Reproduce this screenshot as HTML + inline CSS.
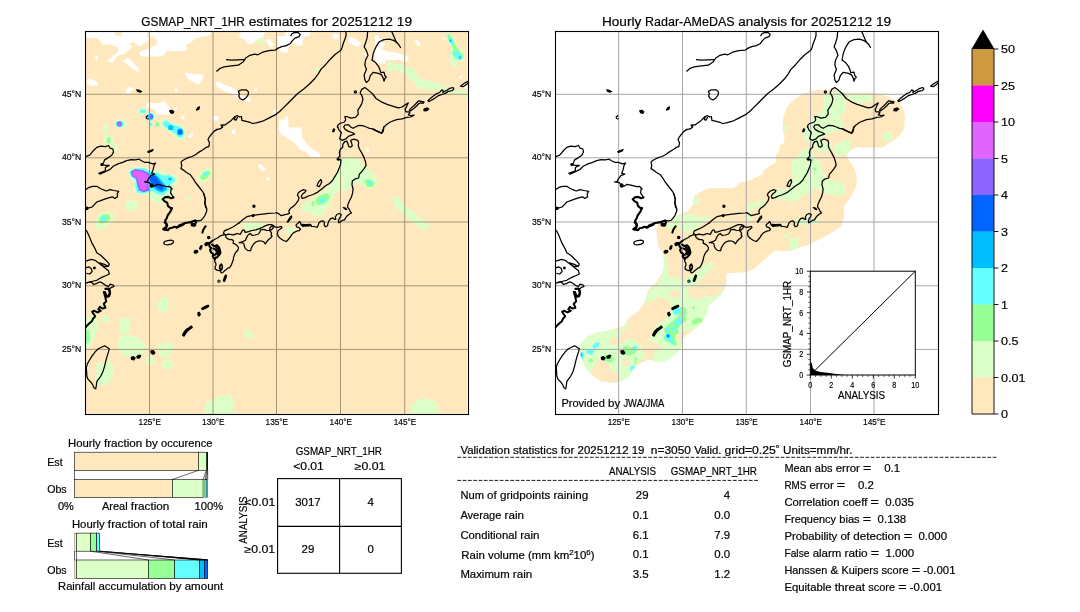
<!DOCTYPE html>
<html lang="en"><head><meta charset="utf-8"><title>GSMAP_NRT_1HR validation 20251212 19</title>
<style>html,body{margin:0;padding:0;background:#fff}body{width:1080px;height:612px;overflow:hidden;font-family:"Liberation Sans",sans-serif}svg{display:block;will-change:transform}text{font-family:"Liberation Sans",sans-serif;fill:#000;stroke:#000;stroke-width:0.18px}</style>
</head><body>
<svg width="1080" height="612" viewBox="0 0 1080 612">
<rect width="1080" height="612" fill="#fff"/>
<defs>
<filter id="soft" x="-5%" y="-5%" width="110%" height="110%"><feGaussianBlur stdDeviation="0.45"/></filter>
<clipPath id="bandclip"><path d="M228.1 96.0 L227.6 90.0 L228.9 84.3 L232.8 75.1 L240.7 67.3 L249.8 62.1 L261.6 58.9 L277.3 58.4 L290.4 61.5 L319.1 61.5 L332.2 65.2 L341.3 69.9 L347.9 76.5 L350.0 85.6 L349.2 97.4 L345.3 103.9 L337.4 110.4 L327.0 116.5 L300.8 116.5 L293.5 120.9 L291.7 126.1 L295.6 131.4 L299.5 137.9 L302.1 147.0 L300.8 156.2 L295.6 166.6 L289.1 174.5 L289.1 185.0 L286.4 195.4 L279.8 199.5 L266.7 207.0 L255.3 213.5 L243.8 216.8 L235.7 220.0 L219.3 220.0 L209.5 228.2 L199.7 237.4 L190.8 241.2 L171.4 242.2 L171.5 252.7 L169.1 259.0 L165.1 264.2 L161.9 267.5 L157.3 271.4 L152.7 276.0 L152.1 281.2 L149.4 287.1 L146.8 291.7 L142.9 295.6 L137.7 299.5 L133.1 302.8 L128.5 306.7 L127.2 312.6 L125.9 317.8 L122.0 321.7 L116.8 325.7 L110.2 330.2 L105.0 330.9 L93.0 328.5 L84.9 332.8 L78.3 337.7 L73.4 345.9 L63.6 351.7 L47.3 350.8 L39.1 345.9 L30.9 337.7 L26.0 326.3 L24.4 314.8 L30.9 306.6 L40.8 301.7 L52.2 300.1 L68.5 295.2 L73.4 287.0 L83.2 280.5 L89.8 270.7 L93.0 259.3 L102.8 249.5 L107.7 241.3 L109.4 231.5 L107.7 221.7 L102.8 215.1 L101.2 198.8 L104.0 190.0 L111.7 190.0 L124.2 183.1 L132.1 180.7 L137.6 174.4 L139.1 165.0 L146.2 160.3 L154.0 157.2 L179.1 157.2 L186.2 150.9 L192.0 150.5 L198.3 147.8 L207.7 143.1 L208.5 139.9 L213.2 136.0 L221.0 131.3 L221.0 124.2 L224.2 119.5 L224.9 114.8 L228.9 111.7 L229.6 105.4 L228.1 100.7 Z"/></clipPath>
<clipPath id="clipmap"><rect x="0.5" y="0.5" width="383" height="383"/></clipPath>
<g id="coast" fill="none" stroke="#000" stroke-width="1.25" stroke-linejoin="round" stroke-linecap="round">
<path d="M62.7 84.7 L61.2 86.0 L61.5 87.5 L63.1 87.8"/>
<path d="M131.8 40.2 L135.2 37.3 L139.1 35.8 L146.2 34.8 L153.3 34.2 L158.0 31.1 L161.1 26.7 L165.0 24.3 L169.7 23.2 L172.9 23.8 L177.6 21.2 L183.8 19.6 L190.1 19.1 L192.0 18.0"/>
<path d="M141.5 28.7 L146.2 29.2 L152.5 28.9 L158.7 28.7"/>
<path d="M153.3 60.4 L156.4 58.8 L161.1 58.8 L163.5 60.9 L163.1 64.0 L161.1 66.7 L158.0 69.0 L155.3 67.8 L153.7 65.1 L154.4 62.7 Z"/>
<path d="M137.6 96.0 L136.0 94.1 L138.0 93.8 L139.9 94.1 L143.1 91.8 L146.2 89.4 L150.1 85.5 L152.5 84.7 L154.8 86.0 L156.4 85.5 L156.9 89.4 L160.3 90.2 L165.0 91.3 L167.4 92.5 L171.3 91.8 L177.6 90.2 L183.8 87.1 L190.1 83.9 L192.0 82.8"/>
<path d="M150.1 86.0 L149.3 88.6 L151.2 89.1 L152.5 86.3"/>
<path d="M192.0 17.6 L196.7 15.7 L201.4 14.6 L205.3 12.5 L207.7 9.4 L210.0 7.1 L214.0 5.6 L215.2 3.5 L213.2 1.6 L209.3 1.6 L206.9 2.8 L205.8 4.7"/>
<path d="M261.0 0.0 L261.0 4.7 L259.8 8.6 L258.2 12.5 L257.1 16.5 L255.5 19.6 L250.0 23.5 L245.3 28.2 L240.6 33.7 L235.9 38.4 L233.1 43.1 L229.6 47.8 L224.2 53.3 L218.7 58.0 L212.4 62.7 L207.7 67.5 L203.0 72.2 L198.3 76.9 L194.4 80.8 L192.0 82.4"/>
<path d="M282.7 0.0 L282.2 6.3 L280.6 11.8 L279.1 15.7 L281.4 19.6 L283.0 24.3 L280.6 29.0 L279.8 33.7 L281.4 38.4 L279.1 43.9 L279.8 48.6 L281.4 51.5 L283.8 49.4 L285.3 44.7 L288.0 41.6"/>
<path d="M288.0 63.2 L283.8 59.6 L279.8 56.5 L276.7 58.4 L275.1 62.0 L276.7 64.3 L278.0 68.2 L276.7 72.9 L274.4 76.9 L272.8 79.2 L273.3 83.1 L270.4 86.3 L265.7 87.1 L261.8 85.5 L259.8 85.5 L260.7 88.6 L259.5 91.0 L254.7 92.5 L252.9 94.1 L252.5 96.5"/>
<path d="M269.3 60.9 a1.1 1.1 0 1 0 2.2 0 a1.1 1.1 0 1 0 -2.2 0 Z"/>
<path d="M306.5 0.0 L309.2 6.3 L311.2 11.0 L313.9 13.8 L315.5 16.5"/>
<path d="M287.1 29.0 L288.0 23.5 L289.3 19.6 L291.1 15.7 L294.3 10.7 L299.0 8.6 L304.5 8.2 L308.4 9.4 L311.2 11.0"/>
<path d="M287.1 29.0 L290.4 31.4 L293.5 35.3 L295.1 39.2 L295.8 41.6 L299.0 41.1 L299.8 44.7 L301.3 46.3 L299.8 47.8 L299.0 50.2 L298.2 47.1 L296.6 43.9 L293.5 42.4 L289.6 41.6 L288.0 41.3"/>
<path d="M324.4 79.2 L326.4 76.9 L329.1 74.5 L331.6 71.8 L333.8 69.8 L336.3 70.3 L339.0 70.9 L338.5 72.2 L335.8 71.8 L333.8 72.5 L331.6 75.0 L329.1 77.2 L326.4 79.2 L324.9 80.3 Z"/>
<path d="M342.9 69.8 L345.3 67.5 L348.4 65.1 L351.5 62.7 L354.7 61.5 L356.7 58.8 L358.3 59.6 L357.8 61.5 L361.7 59.3 L364.9 57.3 L368.0 56.5 L368.9 58.0 L367.2 59.6 L363.3 60.4 L360.2 62.4 L357.0 63.5 L353.6 64.6 L350.0 67.1 L346.4 69.3 L343.7 70.6 Z"/>
<path d="M375.5 55.2 L379.0 52.5 L382.9 50.2 L384.3 50.5 L382.1 53.0 L378.2 55.7 Z"/>
<path d="M288.0 63.5 L291.1 67.5 L295.8 70.6 L302.1 73.4 L308.4 75.3 L313.1 76.9 L317.0 76.1 L320.2 73.7 L323.3 71.8 L321.7 75.3 L320.2 78.4 L320.9 80.8 L323.3 80.8 L324.9 81.6 L323.3 83.9 L326.4 84.7 L329.1 84.1 L325.6 86.0 L321.7 86.3 L317.0 87.8 L311.5 88.6 L305.3 91.0 L301.3 93.8 L299.0 96.0 L298.2 100.4 L296.6 102.3 L292.7 100.4 L288.0 98.4"/>
<path d="M0.0 125.8 L4.7 124.2 L7.8 120.3 L11.8 116.4 L15.7 115.1 L20.4 115.6 L23.5 114.5 L25.1 117.2 L27.9 118.0 L28.5 121.1 L26.7 124.2 L23.5 126.6 L19.6 128.9 L18.5 131.8 L16.9 133.6 L20.4 134.4 L24.3 134.4 L20.4 136.5 L20.4 139.9 L15.7 141.5 L13.8 142.3 L14.9 143.1 L20.4 140.7 L25.1 138.4 L28.2 135.2 L32.9 132.9 L37.6 131.3 L41.6 129.7 L46.3 128.6 L50.2 128.9 L54.1 128.2 L56.5 129.7 L59.6 131.3 L63.5 131.3 L67.5 132.9 L70.6 132.1 L69.0 134.4 L68.2 138.4 L66.7 142.3 L69.8 143.1 L65.9 144.6 L63.5 147.8 L62.0 150.6 L59.6 150.9 L64.3 151.7 L65.9 154.0 L69.0 155.3 L72.2 153.3 L76.9 154.4 L81.6 155.6 L84.7 155.3 L87.1 158.0"/>
<path d="M0.0 159.1 L3.9 156.4 L7.8 155.3 L11.8 155.3 L14.9 157.2 L18.0 158.7 L21.2 160.0 L25.1 158.7 L29.0 159.5 L33.7 160.3 L32.2 162.7 L32.6 165.8 L29.8 167.4 L27.5 165.8 L23.5 166.9 L19.6 168.2 L15.7 169.7 L11.8 171.0 L9.4 173.6 L7.1 176.0 L3.9 176.8 L0.0 177.9"/>
<path d="M137.6 96.0 L135.2 97.9 L132.1 98.4 L128.9 100.4 L126.6 103.1 L124.2 106.2 L123.0 108.5 L124.5 111.7 L123.9 115.6 L121.1 116.4 L118.0 118.7 L114.0 121.1 L110.9 123.5 L107.0 125.5 L103.1 126.6 L99.9 128.2 L97.3 129.7 L96.0 131.3 L96.8 134.4 L96.0 137.6 L98.4 139.1 L101.5 141.5 L105.4 143.8 L107.8 147.0 L110.1 150.9 L112.5 154.0 L115.6 158.0 L118.0 161.1 L119.5 165.0 L120.3 168.9 L119.8 172.9 L120.8 176.8"/>
<path d="M154.0 192.0 L158.0 188.5 L161.9 185.7 L166.6 184.6 L171.3 183.8 L177.6 183.1 L183.8 182.3 L190.1 182.0 L192.0 181.6"/>
<path d="M252.4 95.2 L254.0 99.1 L256.3 101.5 L255.5 104.6 L254.7 107.8 L257.1 109.3 L261.0 107.8 L263.4 105.4 L266.5 104.2 L269.6 103.1 L267.3 101.5 L263.4 100.4 L260.2 98.4 L258.7 96.0 L259.8 94.1 L263.4 93.6 L265.7 96.0 L268.1 97.3 L270.4 96.0 L273.6 94.4 L277.5 94.7 L281.4 96.0 L284.5 97.3 L288.0 97.9 L292.4 100.4 L296.6 102.3 L298.2 97.9 L298.7 96.0"/>
<path d="M259.5 110.9 L261.8 110.1 L262.6 111.7 L263.8 115.6 L265.7 116.1 L267.3 114.8 L266.5 111.7 L265.7 109.3 L268.9 108.2 L272.8 109.3 L273.6 111.7 L273.3 114.8 L274.4 118.0 L276.7 121.9 L279.1 126.6 L280.6 131.3 L281.1 134.4 L279.1 137.6 L276.7 140.7 L274.4 143.1 L273.6 147.0 L270.4 147.8 L267.3 150.1 L267.0 154.0 L268.1 158.0 L267.6 161.9 L266.5 165.8 L264.5 169.7"/>
<path d="M259.5 110.9 L257.9 113.3 L257.6 116.4 L255.5 118.0 L254.4 121.1 L254.7 125.0 L252.4 128.2 L256.0 128.9 L255.5 133.6 L254.0 137.6 L252.4 141.5 L250.0 145.4 L247.7 149.3 L244.5 152.5 L240.6 154.8 L236.7 158.0 L232.8 161.1 L228.1 163.5 L223.4 165.0 L220.2 166.6 L217.1 167.4 L216.3 165.0 L217.9 162.7 L220.2 161.1 L221.0 159.5 L218.7 158.7 L215.5 160.0 L213.2 161.9 L212.4 164.2 L214.0 166.6 L213.2 169.7 L210.8 172.9 L208.5 175.2 L205.3 177.6 L203.8 179.9 L204.5 182.3 L202.2 183.1 L199.1 183.8 L195.9 184.6 L194.4 183.1 L192.0 182.0"/>
<path d="M232.0 154.8 L233.6 150.9 L235.9 148.5 L236.7 150.9 L235.6 153.3 L234.4 155.6 Z"/>
<path d="M264.5 169.7 L264.1 170.8 L262.8 173.7 L262.6 176.2 L264.1 178.1 L265.0 180.1 L266.5 182.0 L264.5 183.0 L262.1 185.0 L260.6 186.9 L259.6 188.9 L257.2 189.4 L255.2 190.9 L253.8 191.8 L253.3 189.9 L254.3 187.4 L255.7 185.5 L256.2 183.5 L254.3 182.5 L251.8 183.5 L250.3 186.0 L250.8 188.4 L249.8 188.4 L247.9 186.9 L245.4 187.9 L244.0 189.9 L243.0 192.3 L242.5 194.8 L240.5 195.8 L239.1 193.8 L239.5 191.4 L238.1 189.9 L235.6 190.4 L233.7 192.3 L233.0 194.8 L232.2 196.3 L229.3 195.5 L226.3 195.3 L225.8 193.8 L223.4 194.8 L220.4 194.3 L218.0 195.3 L216.0 193.8 L215.5 191.8 L214.5 190.4 L213.1 192.3 L211.1 193.8 L211.6 195.8 L214.1 196.7 L215.5 198.2 L214.1 199.7 L211.6 200.2 L208.7 201.6 L206.7 203.6 L205.2 206.1 L203.3 208.5 L201.3 210.5 L198.4 209.5 L195.4 207.5 L193.0 205.1 L192.5 202.1 L193.0 199.7 L194.9 198.2 L196.9 196.7 L196.4 195.3 L194.5 195.8 L192.0 196.3"/>
<path d="M202.3 190.9 L203.8 188.4 L205.2 186.0 L206.5 185.0 L206.7 186.5 L205.7 187.9 L204.3 189.4 L203.0 191.2 Z"/>
<path d="M192.0 196.3 L190.3 196.2 L188.7 194.6 L186.6 193.6 L183.5 193.6 L180.3 194.9 L177.4 196.2 L175.1 197.4 L170.9 198.8 L166.7 199.5 L163.6 200.6 L160.2 201.4 L159.2 199.1 L157.5 199.1 L156.5 201.2 L155.2 203.3 L152.1 202.5 L150.0 203.3"/>
<path d="M149.9 203.3 L148.3 203.9 L143.4 203.1 L140.9 204.1 L138.5 202.4 L139.3 199.8 L143.4 198.2 L148.3 195.7 L154.0 192.0"/>
<path d="M185.0 196.7 L186.8 194.9 L188.5 195.3 L187.9 197.2 L186.1 199.1 L184.7 198.5 Z"/>
<path d="M154.2 211.6 L157.8 210.6 L160.5 209.3 L161.5 206.6 L163.1 204.0 L165.2 202.5 L167.3 204.5 L170.4 204.0 L173.5 203.0 L174.9 200.9 L175.6 198.8 L178.8 198.3 L181.4 199.3 L184.5 199.5 L186.1 201.2 L186.6 202.5 L186.1 204.0 L187.1 205.1 L186.1 206.6 L184.0 208.2 L182.4 209.8 L181.4 211.3 L180.3 212.9 L178.8 210.8 L176.7 210.0 L174.6 209.8 L172.5 210.3 L170.4 211.3 L168.8 212.9 L167.3 215.0 L166.2 217.1 L165.7 219.7 L164.1 219.7 L162.5 219.4 L160.5 217.6 L159.4 215.5 L158.9 212.9 L157.8 211.9 Z"/>
<path d="M86.1 158.0 L85.6 161.9 L87.1 164.4 L88.5 166.4"/>
<path d="M110.1 189.4 L113.0 189.9 L116.0 189.4 L117.9 187.4 L119.9 184.5 L121.4 181.1 L121.9 178.1 L120.9 175.2 L119.9 171.7 L120.4 168.3 L119.4 164.9 L118.7 162.4"/>
<path d="M78.7 211.9 L79.7 210.5 L82.6 209.6 L86.1 209.2 L88.5 210.0 L88.3 211.7 L86.1 213.1 L82.6 213.9 L79.7 213.5 Z"/>
<path d="M127.5 209.7 L130.0 208.2 L132.9 206.7 L135.4 204.8 L138.3 203.8 L140.3 203.8 L140.8 205.8 L142.3 207.7 L144.7 208.7 L147.2 208.7 L148.6 210.2 L148.1 212.1 L150.1 213.1 L152.1 214.6 L153.5 216.5 L153.0 219.0 L151.1 221.0 L149.6 223.4 L148.6 226.4 L148.1 229.3 L147.2 231.7 L146.2 234.2 L144.7 236.6 L142.7 237.1 L141.3 238.6 L139.3 240.1 L137.8 241.5 L136.4 242.0 L135.4 240.6 L136.4 238.6 L137.4 236.6 L137.2 234.2 L136.2 233.2 L135.2 234.7 L134.9 237.1 L135.4 239.1 L133.9 239.6 L132.0 239.1 L130.3 238.1 L130.0 236.2 L131.0 234.2 L130.7 231.7 L129.5 230.3 L130.0 228.3"/>
<path d="M136.2 233.2 L134.9 234.2 L134.4 236.2 L135.6 238.9"/>
<path d="M136.2 233.2 L137.5 235.7 L136.9 238.3"/>
<path d="M0.0 199.1 L1.6 199.8 L3.9 204.5 L7.1 212.4 L10.2 217.9 L11.8 221.8 L15.7 224.2 L18.8 227.3 L22.0 230.4 L24.3 233.1 L23.5 235.1 L19.6 235.9 L15.7 233.6 L12.5 231.2 L10.2 229.3 L6.3 228.4 L3.1 229.3 L0.0 230.4"/>
<path d="M14.9 232.0 L19.6 236.7 L23.5 239.8 L24.3 243.0 L21.2 244.5 L17.3 246.1 L14.1 247.7 L11.8 249.3 L8.6 250.0 L5.5 250.8 L2.4 251.6 L0.0 252.4"/>
<path d="M14.9 232.0 L18.8 233.1 L22.7 235.1"/>
<path d="M2.4 251.6 L6.3 250.8 L8.6 253.5 L11.8 252.4 L14.9 250.8 L18.0 252.4 L21.2 254.7 L23.5 255.5 L25.1 253.2 L28.2 254.0 L29.0 255.5 L26.7 256.3 L24.3 257.9"/>
<path d="M1.6 236.7 L3.9 235.9 L6.3 237.5 L7.1 240.6 L4.7 243.0 L1.9 242.5"/>
<path d="M19.6 314.7 L22.0 316.2 L24.3 317.8 L23.5 320.9 L22.0 325.6 L20.7 330.4 L19.6 335.1 L18.0 340.5 L15.7 345.3 L13.3 348.4 L11.8 350.7 L11.3 354.7 L10.7 357.8 L9.1 357.0 L7.8 353.9 L5.5 350.7 L3.1 348.4 L1.9 345.3 L1.6 341.3 L1.3 336.6 L2.4 332.7 L4.7 328.8 L7.1 324.9 L10.2 320.9 L13.3 317.8 L16.5 316.2 Z"/>
</g>
<g id="coastfill" fill="#000" stroke="#000" stroke-width="1.2" stroke-linejoin="round">
<path d="M51.8 58.8 L54.1 59.3 L56.5 60.5 L54.9 61.2 L52.5 60.2 Z"/>
<path d="M84.7 79.7 L87.1 79.4 L88.8 80.8 L87.8 82.4 L85.5 81.6 Z"/>
<path d="M111.4 79.1 L112.9 76.5 L114.5 75.9 L113.9 78.1 Z"/>
<path d="M339.0 78.1 L342.1 76.9 L343.7 78.1 L341.3 80.0 L339.0 79.7 Z"/>
<path d="M62.7 120.8 L65.1 119.5 L68.2 118.7 L66.7 120.3 L63.5 121.4 Z"/>
<path d="M15.8 133.6 a1.1 1.1 0 1 0 2.2 0 a1.1 1.1 0 1 0 -2.2 0 Z"/>
<path d="M65.4 154.4 a1.3 1.3 0 1 0 2.5 0 a1.3 1.3 0 1 0 -2.5 0 Z"/>
<path d="M0.8 177.3 a1.1 1.1 0 1 0 2.2 0 a1.1 1.1 0 1 0 -2.2 0 Z"/>
<path d="M167.8 175.2 a1.1 1.1 0 1 0 2.2 0 a1.1 1.1 0 1 0 -2.2 0 Z"/>
<path d="M167.2 184.6 a0.9 0.9 0 1 0 1.9 0 a0.9 0.9 0 1 0 -1.9 0 Z"/>
<path d="M247.7 100.7 L248.5 97.9 L249.7 98.4 L248.8 100.7 Z"/>
<path d="M252.2 128.2 a0.9 0.9 0 1 0 1.9 0 a0.9 0.9 0 1 0 -1.9 0 Z"/>
<path d="M258.2 176.6 L260.6 177.1 L261.8 178.6 L260.1 178.1 Z"/>
<path d="M217.0 193.3 L220.4 193.5 L225.3 193.3 L225.8 194.5 L221.4 194.9 L217.5 195.1 Z"/>
<path d="M122.5 206.5 a1.2 1.2 0 1 0 2.4 0 a1.2 1.2 0 1 0 -2.4 0 Z"/>
<path d="M119.7 213.1 L121.2 211.6 L123.6 211.5 L123.1 213.6 L120.7 214.6 Z"/>
<path d="M114.6 217.5 L115.6 215.1 L117.0 214.6 L116.6 217.0 L115.3 218.5 Z"/>
<path d="M109.1 220.7 L110.4 219.3 L112.6 219.5 L112.8 221.0 L110.9 222.2 L109.4 221.9 Z"/>
<path d="M138.3 249.9 L139.3 246.5 L140.5 244.0 L141.5 244.5 L140.8 247.4 L139.5 250.4 Z"/>
<path d="M106.0 193.8 L108.9 193.2 L110.9 194.0 L109.4 195.2 L107.0 195.0 Z"/>
<path d="M8.6 237.0 a0.8 0.8 0 1 0 1.6 0 a0.8 0.8 0 1 0 -1.6 0 Z"/>
<path d="M46.3 326.4 L48.6 325.6 L50.2 326.9 L48.9 328.8 L46.6 328.5 Z"/>
<path d="M51.8 325.6 L54.1 324.4 L55.7 324.4 L54.6 326.9 L52.5 327.2 Z"/>
<path d="M65.9 320.2 L68.2 319.7 L69.8 321.7 L68.7 322.8 L66.5 322.5 Z"/>
<path d="M112.9 281.7 L114.3 281.2 L115.3 283.7 L114.0 285.0 L112.9 283.7 Z"/>
<path d="M66.3 320.0 L68.6 320.9 L69.6 322.6 L67.4 322.9 L66.3 321.6 Z"/>
</g>
<g id="coastmed" fill="none" stroke="#000" stroke-width="2.0" stroke-linejoin="round" stroke-linecap="round">
<path d="M24.3 257.9 L25.1 261.8 L24.3 264.9 L22.0 265.7 L19.6 263.4 L18.8 261.0 L20.4 266.5 L21.2 270.4 L18.8 272.8 L20.4 276.7 L17.3 277.5 L14.9 275.9 L13.3 278.3 L15.7 279.8 L12.5 281.4 L9.4 279.8 L7.1 280.6 L8.6 283.0 L10.2 285.3 L7.8 288.0 L7.1 290.0 L3.9 292.7 L1.6 295.1 L0.0 297.1"/>
</g>
<g id="coastthick" fill="none" stroke="#000" stroke-width="2.1" stroke-linejoin="round" stroke-linecap="round">
<path d="M88.5 166.4 L86.1 167.3 L83.1 165.9 L79.7 166.4 L77.7 168.3 L79.7 170.3 L82.2 171.7 L83.1 175.2 L85.6 177.1 L87.1 177.1 L85.6 180.1 L84.1 182.5 L82.6 184.5 L81.7 187.4 L80.2 189.4 L80.7 192.3 L82.2 194.3 L80.7 196.3 L78.2 198.2 L79.7 198.7 L83.1 199.2 L84.6 197.2 L87.1 196.7 L89.5 195.8 L92.5 196.3 L94.4 194.3 L97.4 193.3 L99.3 192.3 L101.8 191.8 L104.2 191.4 L107.2 190.4 L110.1 189.4 L111.1 191.4 L109.6 193.3 L107.2 192.8 L106.2 191.4"/>
<path d="M79.7 191.4 L81.7 192.8 L81.2 197.7 L79.2 198.2"/>
<path d="M91.5 196.7 L93.9 195.5 L96.4 194.5 L98.8 193.3"/>
<path d="M127.5 209.7 L125.6 211.2 L124.1 213.1 L124.6 215.6 L126.1 217.0 L125.1 219.0 L126.1 221.5 L128.0 222.9 L127.7 225.4 L129.0 227.3 L130.0 228.3"/>
<path d="M127.1 213.6 L129.5 215.1 L132.0 214.1 L133.9 216.1 L134.9 219.0 L135.4 221.9 L133.9 224.4 L132.0 226.4 L130.0 226.8"/>
<path d="M128.5 217.5 L130.7 218.5 L132.0 221.0 L130.7 223.4 L129.0 223.9"/>
<path d="M131.0 216.1 L132.9 218.0 L133.6 221.0 L132.5 223.4"/>
<path d="M117.4 201.6 L118.3 198.7 L119.9 196.0 L120.7 195.4"/>
<path d="M20.4 257.9 L23.5 257.6 L24.8 261.8 L23.5 265.4 L21.2 264.5 L20.1 261.0"/>
<path d="M117.3 277.5 L119.9 276.0 L123.0 274.7"/>
<path d="M117.6 278.1 L120.5 276.8 L123.3 275.2"/>
<path d="M98.0 303.9 L99.6 301.0 L101.9 298.4 L104.2 297.1 L106.2 295.5"/>
<path d="M98.8 304.6 L100.6 301.7 L102.9 299.1 L105.2 297.4 L106.8 296.4"/>
</g>
</defs>
<g transform="translate(85.0 31.0)">
<g clip-path="url(#clipmap)">
<rect x="0" y="0" width="384" height="384" fill="#fff"/>
<rect x="1" y="1" width="381.3" height="381.6" fill="#ffe8bd"/>
<g filter="url(#soft)">
<path d="M0.0 0.3 L30.2 0.3 L30.2 4.8 L36.8 4.8 L36.8 0.3 L62.1 0.3 L62.1 6.8 L64.5 6.8 L64.5 0.3 L101.3 0.3 L101.3 19.9 L91.5 19.9 L81.7 19.9 L76.8 25.6 L56.4 25.6 L53.9 23.1 L56.4 19.9 L62.1 18.2 L64.5 17.4 L71.9 13.3 L71.9 9.3 L68.6 6.0 L64.5 6.8 L63.7 9.3 L53.9 15.8 L49.0 10.9 L44.1 13.3 L47.4 15.8 L39.2 23.1 L32.7 24.8 L27.0 32.1 L22.1 29.7 L26.1 26.4 L33.5 19.9 L32.7 15.8 L30.2 15.3 L24.5 13.3 L18.0 14.2 L12.3 7.1 L0.0 7.1 Z" fill="#ffffff"/>
<path d="M9.5 26.7 L11.4 24.8 L13.4 26.7 L11.4 29.0 Z" fill="#ffffff"/>
<path d="M38.4 28.9 L43.3 27.2 L49.0 32.1 L52.3 36.2 L54.7 39.8 L52.3 41.1 L47.4 37.8 L42.5 33.8 L38.4 30.5 Z" fill="#ffffff"/>
<path d="M2.5 49.3 L4.9 46.8 L8.2 49.3 L12.3 50.9 L13.1 53.4 L9.8 55.0 L4.9 54.5 L2.0 51.7 Z" fill="#ffffff"/>
<path d="M40.8 59.9 L43.3 56.6 L47.4 56.2 L49.0 58.3 L45.8 60.7 L44.1 62.7 L40.8 62.4 Z" fill="#ffffff"/>
<path d="M89.1 59.1 L91.2 57.1 L93.1 59.1 L91.2 61.1 Z" fill="#ffffff"/>
<path d="M60.5 74.6 L62.9 72.2 L71.9 72.2 L76.0 73.8 L79.2 69.7 L81.7 73.8 L85.0 78.7 L85.0 83.6 L71.9 83.6 L70.3 78.7 L65.4 77.1 L61.3 77.1 Z" fill="#ffffff"/>
<path d="M89.1 77.4 L91.2 75.8 L93.1 77.4 L91.2 79.2 Z" fill="#ffffff"/>
<path d="M96.4 86.5 L98.4 84.9 L100.3 86.5 L98.4 88.5 Z" fill="#ffffff"/>
<path d="M100.0 0.3 L127.0 0.3 L124.5 4.4 L118.0 5.2 L111.4 6.8 L106.5 10.9 L102.5 13.3 L100.0 12.5 Z" fill="#ffffff"/>
<path d="M153.9 4.4 L156.4 0.3 L180.1 0.3 L178.4 6.0 L171.9 8.4 L168.6 12.5 L162.9 13.0 L159.6 8.4 L155.6 6.8 Z" fill="#ffffff"/>
<path d="M180.9 9.3 L184.2 8.1 L189.1 13.3 L186.6 16.6 L183.3 14.2 Z" fill="#ffffff"/>
<path d="M192.3 5.2 L200.0 5.2 L200.0 21.5 L196.4 21.5 L193.1 15.0 Z" fill="#ffffff"/>
<path d="M100.0 41.1 L103.3 41.9 L109.8 43.6 L116.3 42.8 L118.8 45.2 L115.5 50.9 L113.9 53.9 L109.8 51.7 L104.9 49.3 L100.8 45.2 Z" fill="#ffffff"/>
<path d="M130.2 51.7 L132.7 50.1 L139.2 53.4 L147.4 56.6 L152.3 59.9 L155.6 64.0 L160.5 65.6 L165.4 67.3 L166.2 69.7 L162.1 70.9 L156.4 68.9 L149.0 64.0 L142.5 61.5 L136.8 59.1 L131.9 55.8 Z" fill="#ffffff"/>
<path d="M169.1 58.8 a1.5 1.5 0 1 0 2.9 0 a1.5 1.5 0 1 0 -2.9 0 Z" fill="#ffffff"/>
<path d="M128.6 87.2 a2.5 2.1 0 1 0 4.9 0 a2.5 2.1 0 1 0 -4.9 0 Z" fill="#ffffff"/>
<path d="M188.1 81.2 a1.5 1.5 0 1 0 2.9 0 a1.5 1.5 0 1 0 -2.9 0 Z" fill="#ffffff"/>
<path d="M194.0 88.5 L200.0 88.5 L200.0 97.0 L194.0 97.0 Z" fill="#ffffff"/>
<path d="M200.0 0.3 L226.1 0.3 L224.5 4.4 L218.0 6.8 L217.2 14.2 L213.9 15.0 L209.8 11.7 L204.9 14.2 L202.5 17.4 L203.3 21.5 L200.0 21.5 Z" fill="#ffffff"/>
<path d="M246.6 5.2 L250.7 1.9 L254.7 5.2 L250.7 8.8 Z" fill="#ffffff"/>
<path d="M262.9 8.4 L265.4 6.0 L271.9 8.4 L276.0 12.5 L273.5 16.6 L268.6 14.2 L264.5 12.5 Z" fill="#ffffff"/>
<path d="M278.4 23.1 L280.9 21.2 L283.7 23.1 L281.4 26.1 Z" fill="#ffffff"/>
<path d="M289.9 15.0 L293.1 9.3 L297.2 7.6 L298.4 15.0 L296.4 19.1 L300.0 19.9 L300.0 32.9 L296.4 32.1 L291.5 28.0 L289.1 21.5 Z" fill="#ffffff"/>
<path d="M200.0 85.2 L203.3 86.1 L203.6 97.0 L200.0 97.0 Z" fill="#ffffff"/>
<path d="M290.0 17.4 L293.3 16.6 L297.4 18.2 L302.3 20.7 L311.2 21.5 L319.4 24.0 L323.5 26.4 L323.5 29.7 L320.2 31.3 L314.5 28.9 L306.3 28.9 L299.8 29.7 L296.5 32.9 L290.0 31.3 Z" fill="#ffffff"/>
<path d="M290.0 4.4 L292.5 3.9 L294.9 7.6 L294.6 13.3 L291.6 16.3 L290.0 17.4 Z" fill="#ffffff"/>
<path d="M296.5 13.3 L298.5 11.7 L300.6 13.3 L298.5 15.3 Z" fill="#ffffff"/>
<path d="M329.2 10.1 L331.7 8.8 L336.1 13.3 L334.1 15.8 Z" fill="#ffffff"/>
<path d="M357.0 7.3 L358.6 5.8 L360.3 7.3 L358.6 8.9 Z" fill="#ffffff"/>
<path d="M373.8 46.0 L375.8 44.2 L377.7 46.0 L375.8 47.8 Z" fill="#ffffff"/>
<path d="M376.6 54.5 L381.5 53.4 L383.1 55.8 L379.1 57.8 Z" fill="#ffffff"/>
<path d="M192.9 96.5 L216.2 96.5 L217.4 106.4 L222.3 113.7 L228.4 118.6 L234.6 122.3 L235.8 126.0 L226.0 126.5 L221.1 121.1 L215.0 118.6 L208.8 111.3 L202.7 107.6 L196.6 103.9 Z" fill="#ffffff"/>
<path d="M172.5 134.5 L175.7 132.8 L180.6 138.2 L177.5 140.7 Z" fill="#ffffff"/>
<path d="M181.4 148.0 a1.7 1.7 0 1 0 3.4 0 a1.7 1.7 0 1 0 -3.4 0 Z" fill="#ffffff"/>
<path d="M281.1 119.1 a1.7 1.7 0 1 0 3.4 0 a1.7 1.7 0 1 0 -3.4 0 Z" fill="#ffffff"/>
<path d="M60.8 73.9 L65.0 71.9 L73.5 72.7 L78.4 70.2 L84.6 76.4 L84.6 81.3 L76.0 82.5 L71.1 78.8 L63.7 76.4 Z" fill="#ffffff"/>
<path d="M95.6 86.6 a1.7 1.7 0 1 0 3.4 0 a1.7 1.7 0 1 0 -3.4 0 Z" fill="#ffffff"/>
<path d="M102.5 105.8 L107.8 101.4 L109.1 103.3 L104.2 107.7 Z" fill="#ffffff"/>
<path d="M128.4 87.4 a2.7 2.2 0 1 0 5.4 0 a2.7 2.2 0 1 0 -5.4 0 Z" fill="#ffffff"/>
<path d="M146.6 98.9 L150.0 97.9 L150.5 103.3 L147.1 102.8 Z" fill="#ffffff"/>
<path d="M302.3 32.1 L306.3 30.5 L311.2 33.8 L316.1 32.9 L322.7 36.2 L329.2 37.8 L332.5 44.4 L339.0 49.3 L345.6 50.1 L355.4 53.4 L361.9 57.5 L368.4 58.3 L378.2 59.9 L383.1 62.4 L383.1 67.3 L378.2 64.8 L371.7 62.4 L361.9 61.5 L352.1 59.1 L345.6 59.1 L337.4 58.3 L332.5 57.5 L329.2 50.9 L324.3 46.0 L319.4 42.8 L314.5 40.3 L309.6 38.7 L304.7 40.3 L302.3 37.0 Z" fill="#dcffc8"/>
<path d="M360.3 3.5 L363.5 1.9 L366.8 4.4 L370.1 9.3 L371.7 15.0 L375.0 17.4 L379.1 21.5 L379.9 26.4 L376.6 29.7 L371.7 31.3 L371.7 35.4 L368.4 36.2 L366.0 32.9 L364.3 28.0 L366.0 23.1 L366.8 18.2 L365.2 13.3 L362.7 8.4 Z" fill="#dcffc8"/>
<path d="M171.1 9.3 L174.3 6.8 L179.2 8.4 L178.4 12.5 L174.3 13.7 Z" fill="#dcffc8"/>
<path d="M229.4 39.5 L232.7 36.2 L236.8 39.2 L233.5 43.1 Z" fill="#dcffc8"/>
<path d="M41.7 140.1 L47.8 135.7 L58.8 135.2 L66.2 138.9 L76.0 140.1 L83.3 142.5 L91.9 145.0 L93.1 151.1 L88.2 156.0 L89.5 162.1 L84.6 167.0 L78.4 169.5 L76.0 173.2 L69.9 171.9 L65.0 168.3 L63.7 164.6 L58.8 163.4 L52.7 164.1 L47.8 159.7 L49.0 152.3 L44.1 146.2 Z" fill="#dcffc8"/>
<path d="M29.2 93.0 a6.4 4.2 0 1 0 12.7 0 a6.4 4.2 0 1 0 -12.7 0 Z" fill="#dcffc8"/>
<path d="M61.3 85.7 a4.4 4.9 0 1 0 8.8 0 a4.4 4.9 0 1 0 -8.8 0 Z" fill="#dcffc8"/>
<path d="M53.2 80.3 a4.4 2.9 0 1 0 8.8 0 a4.4 2.9 0 1 0 -8.8 0 Z" fill="#dcffc8"/>
<path d="M74.8 89.8 L80.9 87.6 L88.2 91.8 L96.8 94.2 L101.5 100.9 L99.8 107.5 L94.4 109.2 L88.2 103.8 L82.1 100.1 L77.2 96.5 Z" fill="#dcffc8"/>
<path d="M18.4 98.4 a2.5 4.4 0 1 0 4.9 0 a2.5 4.4 0 1 0 -4.9 0 Z" fill="#dcffc8"/>
<path d="M18.9 109.9 a4.9 5.9 0 1 0 9.8 0 a4.9 5.9 0 1 0 -9.8 0 Z" fill="#dcffc8"/>
<path d="M27.0 116.8 a2.9 3.9 0 1 0 5.9 0 a2.9 3.9 0 1 0 -5.9 0 Z" fill="#dcffc8"/>
<path d="M111.5 147.4 L115.2 141.3 L122.5 137.1 L127.9 138.4 L127.0 145.0 L121.3 149.9 L115.2 151.6 Z" fill="#dcffc8"/>
<path d="M8.6 191.5 L12.3 184.2 L19.6 180.5 L28.2 181.7 L29.4 187.9 L24.5 194.0 L17.2 198.9 L11.0 197.7 Z" fill="#dcffc8"/>
<path d="M40.2 174.4 a6.4 5.1 0 1 0 12.7 0 a6.4 5.1 0 1 0 -12.7 0 Z" fill="#dcffc8"/>
<path d="M102.0 167.0 a2.2 2.2 0 1 0 4.4 0 a2.2 2.2 0 1 0 -4.4 0 Z" fill="#dcffc8"/>
<path d="M255.4 126.0 L265.2 125.5 L275.0 128.4 L278.7 135.8 L283.6 138.2 L288.5 143.1 L292.2 149.2 L290.9 155.4 L284.8 157.8 L277.5 154.1 L272.5 151.7 L267.6 155.4 L261.5 159.0 L255.4 160.3 L248.0 164.0 L246.8 170.1 L244.4 175.0 L239.5 179.9 L235.8 187.2 L230.9 184.8 L226.0 182.3 L218.6 181.1 L215.0 177.4 L217.4 172.5 L224.8 170.1 L230.9 165.2 L238.2 160.3 L244.4 155.4 L248.0 148.0 L250.5 140.7 L254.2 133.3 Z" fill="#dcffc8"/>
<path d="M158.6 192.1 L177.0 190.9 L179.4 195.8 L173.3 199.5 L161.0 199.5 L157.4 195.8 Z" fill="#dcffc8"/>
<path d="M200.2 197.0 L208.8 195.8 L211.3 199.5 L205.1 203.2 L200.2 201.9 Z" fill="#dcffc8"/>
<path d="M305.9 165.6 L312.5 166.0 L322.3 176.0 L332.0 184.0 L340.0 190.0 L346.0 197.0 L338.0 199.0 L330.0 193.0 L320.0 185.0 L310.0 176.0 Z" fill="#dcffc8"/>
<path d="M75.1 267.4 L81.6 265.8 L84.9 270.7 L83.2 277.2 L78.3 282.1 L73.4 278.9 L72.8 272.3 Z" fill="#dcffc8"/>
<path d="M0.9 287.0 L11.3 283.8 L13.0 293.6 L9.7 306.6 L4.8 316.5 L0.9 318.1 Z" fill="#dcffc8"/>
<path d="M17.9 283.8 L24.4 285.4 L22.8 291.9 L17.2 290.3 Z" fill="#dcffc8"/>
<path d="M34.2 287.0 L44.0 287.0 L45.7 296.8 L40.8 303.4 L34.2 301.7 Z" fill="#dcffc8"/>
<path d="M34.2 306.6 L44.0 303.4 L55.5 308.3 L60.4 314.8 L58.7 323.0 L47.3 326.3 L37.5 324.6 L32.6 316.5 Z" fill="#dcffc8"/>
<path d="M71.8 313.2 L86.5 311.5 L89.8 318.1 L83.2 324.6 L75.1 326.3 Z" fill="#dcffc8"/>
<path d="M60.4 326.3 L68.5 324.6 L70.2 331.2 L63.6 334.4 Z" fill="#dcffc8"/>
<path d="M78.3 327.9 L86.5 329.5 L88.1 336.1 L81.6 339.3 L76.7 334.4 Z" fill="#dcffc8"/>
<path d="M160.0 298.5 L166.6 300.1 L168.2 306.6 L162.3 308.3 L159.4 303.4 Z" fill="#dcffc8"/>
<path d="M120.8 372.0 L132.3 365.5 L145.3 363.8 L148.6 372.0 L147.0 385.1 L120.8 385.1 Z" fill="#dcffc8"/>
<path d="M11.3 332.8 L24.4 329.5 L29.3 337.7 L26.0 349.1 L17.9 355.7 L9.7 352.4 L11.3 342.6 Z" fill="#dcffc8"/>
<path d="M325.5 375.3 L332.1 368.7 L341.9 367.1 L351.7 372.0 L354.9 385.1 L325.5 385.1 Z" fill="#dcffc8"/>
<path d="M361.9 4.4 L364.3 2.7 L366.8 6.0 L369.2 10.1 L370.9 15.0 L374.2 19.9 L378.2 24.0 L377.4 28.0 L374.2 29.4 L370.1 27.2 L366.8 23.1 L368.1 18.2 L366.0 13.3 L363.5 9.3 Z" fill="#96ff96"/>
<path d="M70.3 93.5 a2.0 2.0 0 1 0 3.9 0 a2.0 2.0 0 1 0 -3.9 0 Z" fill="#96ff96"/>
<path d="M21.6 109.4 a2.0 2.7 0 1 0 3.9 0 a2.0 2.7 0 1 0 -3.9 0 Z" fill="#96ff96"/>
<path d="M114.7 146.9 L117.6 142.0 L123.8 139.6 L126.0 142.5 L122.1 146.9 L117.6 149.4 Z" fill="#96ff96"/>
<path d="M13.5 189.1 L17.2 183.7 L23.3 183.0 L25.7 187.9 L20.8 191.5 L15.9 192.8 Z" fill="#96ff96"/>
<path d="M229.7 168.9 L234.6 164.7 L241.9 162.2 L245.1 165.2 L242.6 170.1 L237.0 173.8 L232.1 173.8 Z" fill="#96ff96"/>
<path d="M278.7 149.2 L284.8 148.0 L289.7 151.7 L288.5 155.9 L282.4 155.9 Z" fill="#96ff96"/>
<path d="M226.5 172.5 a1.5 2.0 0 1 0 2.9 0 a1.5 2.0 0 1 0 -2.9 0 Z" fill="#96ff96"/>
<path d="M0.9 300.1 L4.2 298.5 L4.8 309.9 L0.9 313.2 Z" fill="#96ff96"/>
<path d="M363.2 6.0 L365.5 6.0 L368.1 10.9 L368.4 14.2 L366.8 13.3 L364.3 10.9 Z" fill="#64ffff"/>
<path d="M367.6 20.7 L370.9 19.9 L375.0 23.1 L377.9 26.4 L375.8 28.9 L371.7 27.2 L368.4 24.8 Z" fill="#64ffff"/>
<path d="M44.1 141.3 L49.0 137.6 L58.8 137.1 L65.0 140.6 L73.5 142.0 L78.4 145.0 L83.3 143.8 L89.5 146.9 L89.5 151.1 L84.6 153.6 L83.3 159.7 L78.4 163.4 L72.3 163.4 L67.4 159.7 L62.5 161.6 L57.6 162.6 L52.0 161.6 L50.2 156.0 L51.0 149.9 L46.1 145.5 Z" fill="#64ffff"/>
<path d="M81.9 147.9 a3.2 2.7 0 1 0 6.4 0 a3.2 2.7 0 1 0 -6.4 0 Z" fill="#64ffff"/>
<path d="M30.6 93.0 a4.2 2.9 0 1 0 8.3 0 a4.2 2.9 0 1 0 -8.3 0 Z" fill="#64ffff"/>
<path d="M62.3 85.7 a3.4 3.9 0 1 0 6.9 0 a3.4 3.9 0 1 0 -6.9 0 Z" fill="#64ffff"/>
<path d="M54.7 80.3 a2.9 2.0 0 1 0 5.9 0 a2.9 2.0 0 1 0 -5.9 0 Z" fill="#64ffff"/>
<path d="M77.2 91.1 L82.1 89.8 L87.0 93.5 L95.6 96.0 L99.3 100.9 L98.0 105.8 L94.4 107.0 L89.5 102.1 L83.3 98.4 L78.4 94.7 Z" fill="#64ffff"/>
<path d="M64.0 93.5 a1.7 1.7 0 1 0 3.4 0 a1.7 1.7 0 1 0 -3.4 0 Z" fill="#64ffff"/>
<path d="M118.6 142.5 a2.2 2.0 0 1 0 4.4 0 a2.2 2.0 0 1 0 -4.4 0 Z" fill="#64ffff"/>
<path d="M15.9 187.9 a2.5 2.5 0 1 0 4.9 0 a2.5 2.5 0 1 0 -4.9 0 Z" fill="#64ffff"/>
<path d="M234.6 168.9 L238.2 166.4 L241.2 167.6 L238.7 171.3 L235.3 172.0 Z" fill="#64ffff"/>
<path d="M281.9 151.9 a2.2 1.7 0 1 0 4.4 0 a2.2 1.7 0 1 0 -4.4 0 Z" fill="#64ffff"/>
<path d="M364.5 9.7 a1.0 1.5 0 1 0 2.0 0 a1.0 1.5 0 1 0 -2.0 0 Z" fill="#00beff"/>
<path d="M373.8 26.4 a1.1 1.0 0 1 0 2.3 0 a1.1 1.0 0 1 0 -2.3 0 Z" fill="#00beff"/>
<path d="M61.3 141.5 L71.1 143.8 L74.8 147.4 L79.7 153.6 L82.1 158.5 L77.2 161.6 L72.3 159.7 L67.4 156.0 L63.2 152.3 Z" fill="#00beff"/>
<path d="M83.3 147.9 a1.7 1.5 0 1 0 3.4 0 a1.7 1.5 0 1 0 -3.4 0 Z" fill="#00beff"/>
<path d="M83.3 96.7 a2.5 2.0 0 1 0 4.9 0 a2.5 2.0 0 1 0 -4.9 0 Z" fill="#00beff"/>
<path d="M91.9 100.9 a3.2 3.4 0 1 0 6.4 0 a3.2 3.4 0 1 0 -6.4 0 Z" fill="#00beff"/>
<path d="M64.2 143.8 L70.6 145.0 L73.5 148.7 L77.9 154.3 L78.9 157.7 L76.0 159.2 L72.3 157.2 L68.1 153.6 L65.0 149.9 Z" fill="#0064ff"/>
<path d="M63.5 85.7 a2.2 2.7 0 1 0 4.4 0 a2.2 2.7 0 1 0 -4.4 0 Z" fill="#0064ff"/>
<path d="M92.9 100.9 a2.2 2.5 0 1 0 4.4 0 a2.2 2.5 0 1 0 -4.4 0 Z" fill="#0064ff"/>
<path d="M45.6 140.8 L50.2 138.1 L58.1 139.3 L63.2 142.0 L64.7 147.4 L63.5 153.6 L64.2 159.2 L58.8 161.2 L53.7 159.2 L52.0 152.3 L51.0 147.4 L47.1 145.5 Z" fill="#8c64ff"/>
<path d="M31.9 93.0 a2.5 2.0 0 1 0 4.9 0 a2.5 2.0 0 1 0 -4.9 0 Z" fill="#8c64ff"/>
<path d="M64.2 85.7 a1.5 2.0 0 1 0 2.9 0 a1.5 2.0 0 1 0 -2.9 0 Z" fill="#8c64ff"/>
<path d="M47.1 141.5 L50.5 139.6 L57.6 140.6 L62.0 143.0 L63.2 147.4 L62.0 153.6 L62.5 158.0 L58.8 159.4 L54.9 158.0 L53.4 152.3 L52.5 146.7 L48.3 144.7 Z" fill="#e164ff"/>
<path d="M32.6 93.3 a1.5 1.2 0 1 0 2.9 0 a1.5 1.2 0 1 0 -2.9 0 Z" fill="#e164ff"/>
</g>
<line x1="64.50" y1="0" x2="64.50" y2="384" stroke="#a5967a" stroke-width="1"/>
<line x1="128.00" y1="0" x2="128.00" y2="384" stroke="#a5967a" stroke-width="1"/>
<line x1="191.50" y1="0" x2="191.50" y2="384" stroke="#a5967a" stroke-width="1"/>
<line x1="255.50" y1="0" x2="255.50" y2="384" stroke="#a5967a" stroke-width="1"/>
<line x1="319.70" y1="0" x2="319.70" y2="384" stroke="#a5967a" stroke-width="1"/>
<line x1="0" y1="63.30" x2="384" y2="63.30" stroke="#a5967a" stroke-width="1"/>
<line x1="0" y1="126.80" x2="384" y2="126.80" stroke="#a5967a" stroke-width="1"/>
<line x1="0" y1="191.00" x2="384" y2="191.00" stroke="#a5967a" stroke-width="1"/>
<line x1="0" y1="254.80" x2="384" y2="254.80" stroke="#a5967a" stroke-width="1"/>
<line x1="0" y1="318.40" x2="384" y2="318.40" stroke="#a5967a" stroke-width="1"/>
<use href="#coast"/><use href="#coastmed"/><use href="#coastthick"/><use href="#coastfill"/>
<path d="M132.8 250.2 a1.1 1.1 0 1 0 2.2 0 a1.1 1.1 0 1 0 -2.2 0 Z" fill="none" stroke="#004848" stroke-width="1.3"/>
</g>
<rect x="0.5" y="0.5" width="383" height="383" fill="none" stroke="#000" stroke-width="1.1"/>
</g>
<g transform="translate(555.0 31.0)">
<g clip-path="url(#clipmap)">
<rect x="0" y="0" width="384" height="384" fill="#fff"/>
<g filter="url(#soft)">
<path d="M228.1 96.0 L227.6 90.0 L228.9 84.3 L232.8 75.1 L240.7 67.3 L249.8 62.1 L261.6 58.9 L277.3 58.4 L290.4 61.5 L319.1 61.5 L332.2 65.2 L341.3 69.9 L347.9 76.5 L350.0 85.6 L349.2 97.4 L345.3 103.9 L337.4 110.4 L327.0 116.5 L300.8 116.5 L293.5 120.9 L291.7 126.1 L295.6 131.4 L299.5 137.9 L302.1 147.0 L300.8 156.2 L295.6 166.6 L289.1 174.5 L289.1 185.0 L286.4 195.4 L279.8 199.5 L266.7 207.0 L255.3 213.5 L243.8 216.8 L235.7 220.0 L219.3 220.0 L209.5 228.2 L199.7 237.4 L190.8 241.2 L171.4 242.2 L171.5 252.7 L169.1 259.0 L165.1 264.2 L161.9 267.5 L157.3 271.4 L152.7 276.0 L152.1 281.2 L149.4 287.1 L146.8 291.7 L142.9 295.6 L137.7 299.5 L133.1 302.8 L128.5 306.7 L127.2 312.6 L125.9 317.8 L122.0 321.7 L116.8 325.7 L110.2 330.2 L105.0 330.9 L93.0 328.5 L84.9 332.8 L78.3 337.7 L73.4 345.9 L63.6 351.7 L47.3 350.8 L39.1 345.9 L30.9 337.7 L26.0 326.3 L24.4 314.8 L30.9 306.6 L40.8 301.7 L52.2 300.1 L68.5 295.2 L73.4 287.0 L83.2 280.5 L89.8 270.7 L93.0 259.3 L102.8 249.5 L107.7 241.3 L109.4 231.5 L107.7 221.7 L102.8 215.1 L101.2 198.8 L104.0 190.0 L111.7 190.0 L124.2 183.1 L132.1 180.7 L137.6 174.4 L139.1 165.0 L146.2 160.3 L154.0 157.2 L179.1 157.2 L186.2 150.9 L192.0 150.5 L198.3 147.8 L207.7 143.1 L208.5 139.9 L213.2 136.0 L221.0 131.3 L221.0 124.2 L224.2 119.5 L224.9 114.8 L228.9 111.7 L229.6 105.4 L228.1 100.7 Z" fill="#ffe8bd"/>
<g clip-path="url(#bandclip)">
<path d="M127.5 254.7 L130.7 247.2 L139.2 243.0 L146.6 235.6 L156.2 230.2 L158.3 235.6 L150.8 243.0 L144.5 250.4 L138.1 254.7 Z" fill="#dcffc8"/>
<path d="M103.1 221.7 L108.4 223.9 L112.6 230.2 L112.6 245.1 L124.3 247.2 L127.5 254.7 L103.1 254.7 L100.9 254.7 L105.2 248.3 L108.4 240.9 L108.4 230.2 L105.2 223.9 Z" fill="#dcffc8"/>
<path d="M103.1 254.7 L174.2 254.7 L174.2 257.9 L167.8 264.6 L161.5 272.3 L156.2 278.7 L155.1 287.2 L149.8 295.0 L141.9 300.8 L133.9 306.3 L130.7 311.0 L129.6 319.0 L123.7 326.2 L111.6 333.3 L97.7 334.3 L95.6 323.7 L102.0 319.5 L106.2 315.2 L97.7 311.0 L93.5 308.8 L85.0 308.8 L85.0 292.9 L93.5 292.9 L102.0 294.0 L108.4 289.7 L113.7 283.3 L116.9 277.0 L113.7 269.5 L106.2 266.3 L97.7 268.5 L90.3 272.7 L90.3 267.4 L93.5 261.0 L100.9 254.7 Z" fill="#dcffc8"/>
<path d="M121.3 184.3 L130.3 182.7 L138.5 183.5 L143.4 185.9 L151.6 185.1 L153.2 189.2 L146.7 191.7 L143.4 195.7 L138.5 199.8 L133.6 200.6 L129.5 201.5 L127.9 196.6 L122.2 195.7 L115.6 198.2 L111.5 196.2 L114.0 191.7 L118.9 187.6 Z" fill="#dcffc8"/>
<path d="M138.3 170.4 a3.1 3.1 0 1 0 6.2 0 a3.1 3.1 0 1 0 -6.2 0 Z" fill="#dcffc8"/>
<path d="M268.7 66.9 L278.3 60.5 L290.0 60.5 L291.0 78.6 L285.7 83.9 L283.6 89.2 L290.0 92.4 L285.7 98.7 L277.2 100.9 L268.7 105.1 L266.6 111.5 L275.1 110.4 L277.2 116.8 L270.8 121.0 L262.3 120.0 L258.1 114.7 L250.7 109.4 L247.5 103.0 L250.7 96.6 L256.0 92.4 L258.1 86.0 L265.5 81.7 L268.7 75.4 Z" fill="#dcffc8"/>
<path d="M279.3 114.7 L285.7 111.5 L292.1 108.3 L296.3 111.5 L295.3 118.9 L290.0 124.2 L283.6 125.3 L278.3 121.0 Z" fill="#dcffc8"/>
<path d="M250.7 117.9 L258.1 118.9 L258.1 126.3 L262.3 128.5 L265.5 132.7 L266.6 141.2 L270.8 145.5 L275.1 148.7 L285.7 150.8 L291.0 156.1 L291.0 162.5 L285.7 164.6 L275.1 163.5 L268.7 162.5 L264.5 157.1 L259.2 158.2 L256.0 161.4 L247.5 164.6 L244.3 168.8 L234.7 170.5 L228.4 167.8 L224.1 164.6 L230.5 159.3 L236.9 154.0 L237.9 146.5 L235.8 139.1 L236.9 131.7 L242.2 125.3 L246.4 121.0 Z" fill="#dcffc8"/>
<path d="M228.4 94.5 L233.7 95.6 L232.6 99.8 L227.9 98.7 Z" fill="#dcffc8"/>
<path d="M328.2 100.9 L335.0 100.9 L337.8 106.2 L335.0 111.5 L330.3 110.4 L327.1 106.2 Z" fill="#dcffc8"/>
<path d="M241.1 187.9 L250.7 185.8 L258.1 187.9 L260.2 192.2 L250.7 194.3 L242.2 193.3 Z" fill="#dcffc8"/>
<path d="M205.0 168.8 L210.3 171.0 L207.1 177.3 L205.0 177.3 Z" fill="#dcffc8"/>
<path d="M293.0 63.4 L316.5 63.4 L317.8 69.9 L303.4 72.5 L294.3 68.6 Z" fill="#dcffc8"/>
<path d="M327.0 105.2 L330.9 100.8 L336.1 105.2 L331.7 110.4 Z" fill="#dcffc8"/>
<path d="M270.8 62.1 L278.6 63.4 L278.6 72.5 L270.8 73.8 L268.1 67.3 Z" fill="#dcffc8"/>
<path d="M192.0 173.7 L195.9 172.7 L201.8 170.3 L205.7 171.7 L201.8 175.7 L197.9 178.6 L194.9 180.1 L192.0 181.5 Z" fill="#dcffc8"/>
<path d="M217.5 161.0 L224.4 159.0 L238.1 159.0 L243.0 161.0 L246.9 163.9 L244.9 166.4 L239.1 165.4 L235.1 167.8 L231.2 169.8 L227.3 168.3 L221.4 168.8 L218.5 166.8 Z" fill="#dcffc8"/>
<path d="M192.0 184.5 L196.9 184.5 L196.9 188.4 L192.0 191.4 Z" fill="#dcffc8"/>
<path d="M229.3 203.1 L233.2 203.1 L233.2 207.0 L229.7 207.0 Z" fill="#dcffc8"/>
<path d="M234.2 207.0 L239.1 206.1 L243.0 210.0 L243.5 215.9 L240.0 219.0 L235.1 217.8 L233.7 212.9 Z" fill="#dcffc8"/>
<path d="M254.7 188.4 L260.6 187.4 L264.5 188.4 L263.6 192.3 L256.7 193.3 L253.8 192.3 Z" fill="#dcffc8"/>
<path d="M246.9 159.0 L255.7 159.0 L255.7 161.0 L247.9 161.5 Z" fill="#dcffc8"/>
<path d="M234.0 208.0 L243.2 207.0 L243.8 220.0 L235.7 220.0 Z" fill="#dcffc8"/>
<path d="M23.2 317.6 L26.4 309.4 L31.3 304.5 L37.9 301.2 L47.7 298.8 L57.5 298.0 L64.0 301.2 L67.3 298.0 L71.3 293.1 L73.8 288.2 L93.4 288.2 L93.4 330.6 L86.9 328.2 L82.8 331.1 L81.1 338.0 L77.1 344.2 L70.5 349.8 L64.0 353.0 L41.1 352.7 L34.6 346.5 L29.7 340.0 L25.1 333.1 L23.2 326.6 Z" fill="#dcffc8"/>
<path d="M134.9 256.2 L148.7 255.7 L170.0 255.7 L164.7 262.1 L157.2 266.3 L150.8 265.3 L142.3 268.5 L136.0 266.3 L132.8 262.1 Z" fill="#ffe8bd"/>
<path d="M114.7 260.0 L123.2 258.9 L125.4 264.2 L120.0 267.4 L114.7 265.3 Z" fill="#ffe8bd"/>
<path d="M120.7 304.1 L127.2 301.5 L136.4 298.9 L138.3 300.6 L133.1 303.4 L128.5 307.4 L127.5 311.5 L124.6 311.3 L122.6 307.4 Z" fill="#ffe8bd"/>
<path d="M52.6 310.2 L55.8 307.8 L64.0 305.3 L67.3 302.1 L71.3 297.2 L75.1 286.7 L104.0 286.7 L99.9 295.5 L96.7 303.7 L93.4 310.2 L90.1 315.9 L83.6 313.5 L78.7 307.0 L72.2 308.6 L67.3 311.9 L62.4 313.5 L55.8 313.5 Z" fill="#ffe8bd"/>
<path d="M39.5 329.8 L47.7 328.2 L53.4 333.1 L55.8 339.6 L62.4 341.3 L63.2 352.4 L47.7 352.4 L42.8 347.8 L37.9 344.5 L34.6 339.6 L39.5 336.4 Z" fill="#ffe8bd"/>
<path d="M67.3 328.2 L72.2 327.4 L75.4 330.6 L73.8 334.7 L69.7 335.5 L66.9 332.3 Z" fill="#ffe8bd"/>
<path d="M86.9 317.6 L91.8 315.1 L96.7 320.0 L99.9 324.1 L96.7 328.2 L91.8 329.8 L88.5 324.1 Z" fill="#ffe8bd"/>
<path d="M124.6 276.0 L129.2 276.0 L131.8 279.3 L131.1 285.1 L131.8 289.1 L128.5 291.7 L124.6 294.9 L122.6 298.2 L124.0 302.1 L120.7 304.1 L120.0 308.7 L122.0 312.6 L120.7 315.2 L118.1 313.9 L114.8 311.3 L110.2 310.0 L108.9 307.4 L110.2 302.1 L108.3 298.2 L111.5 294.9 L115.5 291.7 L119.4 288.4 L122.6 285.8 L124.6 282.5 Z" fill="#96ff96"/>
<path d="M136.4 291.0 L139.6 287.8 L144.2 286.2 L147.5 288.4 L146.8 291.0 L142.9 292.3 L139.0 294.0 L137.0 293.2 Z" fill="#96ff96"/>
<path d="M137.3 276.6 a1.3 1.6 0 1 0 2.6 0 a1.3 1.6 0 1 0 -2.6 0 Z" fill="#96ff96"/>
<path d="M257.9 138.0 a1.9 1.5 0 1 0 3.8 0 a1.9 1.5 0 1 0 -3.8 0 Z" fill="#96ff96"/>
<path d="M257.0 128.9 a1.1 0.8 0 1 0 2.1 0 a1.1 0.8 0 1 0 -2.1 0 Z" fill="#96ff96"/>
<path d="M50.1 324.1 L55.8 323.3 L59.1 327.4 L56.6 331.5 L51.7 331.1 L49.3 328.2 Z" fill="#96ff96"/>
<path d="M68.1 315.9 L71.3 314.3 L74.6 316.8 L80.3 315.1 L82.8 317.6 L79.5 322.5 L73.8 324.9 L69.7 323.3 L67.6 320.0 Z" fill="#96ff96"/>
<path d="M33.8 328.2 L37.0 327.4 L38.7 330.2 L35.9 331.8 L33.3 330.6 Z" fill="#96ff96"/>
<path d="M79.5 325.7 L82.0 326.2 L81.6 332.3 L79.5 333.1 Z" fill="#96ff96"/>
<path d="M117.4 278.6 L123.3 276.6 L125.9 278.6 L124.6 283.2 L120.7 284.5 L118.1 282.5 Z" fill="#64ffff"/>
<path d="M119.4 289.7 L124.6 287.1 L128.5 287.1 L128.5 291.0 L125.3 293.6 L120.7 294.0 Z" fill="#64ffff"/>
<path d="M110.2 296.9 L113.5 296.3 L115.5 298.2 L113.5 300.2 L110.5 299.5 Z" fill="#64ffff"/>
<path d="M117.4 296.3 L120.7 295.9 L122.0 298.2 L120.0 300.2 L117.4 299.5 Z" fill="#64ffff"/>
<path d="M110.0 303.4 L112.8 302.1 L116.1 304.1 L116.8 308.0 L118.7 310.6 L117.4 312.6 L114.2 310.6 L110.9 308.7 L109.6 306.1 Z" fill="#64ffff"/>
<path d="M31.3 319.2 L35.4 318.1 L39.5 320.0 L37.9 323.3 L33.8 323.6 L31.3 321.7 Z" fill="#64ffff"/>
<path d="M37.0 315.1 L41.1 311.0 L45.2 311.9 L42.8 315.9 L39.5 318.1 Z" fill="#64ffff"/>
<path d="M24.0 321.7 L27.2 320.8 L29.4 324.1 L28.1 328.2 L24.8 327.9 Z" fill="#64ffff"/>
<path d="M75.4 335.5 L78.7 333.9 L80.3 337.2 L78.4 340.4 L75.4 339.6 Z" fill="#64ffff"/>
<path d="M77.9 315.9 L81.1 314.8 L82.8 317.1 L80.3 319.2 Z" fill="#64ffff"/>
<path d="M111.3 305.0 a1.8 2.0 0 1 0 3.7 0 a1.8 2.0 0 1 0 -3.7 0 Z" fill="#00beff"/>
<path d="M25.1 324.1 a1.3 1.6 0 1 0 2.6 0 a1.3 1.6 0 1 0 -2.6 0 Z" fill="#00beff"/>
<path d="M112.2 305.0 a0.9 1.0 0 1 0 1.8 0 a0.9 1.0 0 1 0 -1.8 0 Z" fill="#0064ff"/>
</g>
</g>
<line x1="63.60" y1="0" x2="63.60" y2="384" stroke="#a5a5a5" stroke-width="1"/>
<line x1="127.50" y1="0" x2="127.50" y2="384" stroke="#a5a5a5" stroke-width="1"/>
<line x1="191.30" y1="0" x2="191.30" y2="384" stroke="#a5a5a5" stroke-width="1"/>
<line x1="255.50" y1="0" x2="255.50" y2="384" stroke="#a5a5a5" stroke-width="1"/>
<line x1="319.00" y1="0" x2="319.00" y2="384" stroke="#a5a5a5" stroke-width="1"/>
<line x1="0" y1="63.30" x2="384" y2="63.30" stroke="#a5a5a5" stroke-width="1"/>
<line x1="0" y1="126.80" x2="384" y2="126.80" stroke="#a5a5a5" stroke-width="1"/>
<line x1="0" y1="191.00" x2="384" y2="191.00" stroke="#a5a5a5" stroke-width="1"/>
<line x1="0" y1="254.80" x2="384" y2="254.80" stroke="#a5a5a5" stroke-width="1"/>
<line x1="0" y1="318.40" x2="384" y2="318.40" stroke="#a5a5a5" stroke-width="1"/>
<use href="#coast"/><use href="#coastmed"/><use href="#coastthick"/><use href="#coastfill"/>
<path d="M132.8 250.2 a1.1 1.1 0 1 0 2.2 0 a1.1 1.1 0 1 0 -2.2 0 Z" fill="none" stroke="#004848" stroke-width="1.3"/>
</g>
<rect x="0.5" y="0.5" width="383" height="383" fill="none" stroke="#000" stroke-width="1.1"/>
</g>
<text x="61.90" y="96.90" font-size="9.00" textLength="19.30" lengthAdjust="spacingAndGlyphs">45°N</text>
<text x="61.90" y="160.40" font-size="9.00" textLength="19.30" lengthAdjust="spacingAndGlyphs">40°N</text>
<text x="61.90" y="224.60" font-size="9.00" textLength="19.30" lengthAdjust="spacingAndGlyphs">35°N</text>
<text x="61.90" y="288.40" font-size="9.00" textLength="19.30" lengthAdjust="spacingAndGlyphs">30°N</text>
<text x="61.90" y="352.00" font-size="9.00" textLength="19.30" lengthAdjust="spacingAndGlyphs">25°N</text>
<text x="138.60" y="425.00" font-size="9.00" textLength="22.40" lengthAdjust="spacingAndGlyphs">125°E</text>
<text x="202.10" y="425.00" font-size="9.00" textLength="22.40" lengthAdjust="spacingAndGlyphs">130°E</text>
<text x="265.60" y="425.00" font-size="9.00" textLength="22.40" lengthAdjust="spacingAndGlyphs">135°E</text>
<text x="329.60" y="425.00" font-size="9.00" textLength="22.40" lengthAdjust="spacingAndGlyphs">140°E</text>
<text x="393.80" y="425.00" font-size="9.00" textLength="22.40" lengthAdjust="spacingAndGlyphs">145°E</text>
<text x="531.90" y="96.90" font-size="9.00" textLength="19.30" lengthAdjust="spacingAndGlyphs">45°N</text>
<text x="531.90" y="160.40" font-size="9.00" textLength="19.30" lengthAdjust="spacingAndGlyphs">40°N</text>
<text x="531.90" y="224.60" font-size="9.00" textLength="19.30" lengthAdjust="spacingAndGlyphs">35°N</text>
<text x="531.90" y="288.40" font-size="9.00" textLength="19.30" lengthAdjust="spacingAndGlyphs">30°N</text>
<text x="531.90" y="352.00" font-size="9.00" textLength="19.30" lengthAdjust="spacingAndGlyphs">25°N</text>
<text x="607.70" y="425.00" font-size="9.00" textLength="22.40" lengthAdjust="spacingAndGlyphs">125°E</text>
<text x="671.60" y="425.00" font-size="9.00" textLength="22.40" lengthAdjust="spacingAndGlyphs">130°E</text>
<text x="735.40" y="425.00" font-size="9.00" textLength="22.40" lengthAdjust="spacingAndGlyphs">135°E</text>
<text x="799.60" y="425.00" font-size="9.00" textLength="22.40" lengthAdjust="spacingAndGlyphs">140°E</text>
<text x="863.10" y="425.00" font-size="9.00" textLength="22.40" lengthAdjust="spacingAndGlyphs">145°E</text>
<text y="26.00" font-size="12.36"><tspan x="141.37" textLength="103.49" lengthAdjust="spacingAndGlyphs">GSMAP_NRT_1HR</tspan> <tspan x="248.67" textLength="59.06" lengthAdjust="spacingAndGlyphs">estimates</tspan> <tspan x="311.55" textLength="16.50" lengthAdjust="spacingAndGlyphs">for</tspan> <tspan x="331.86" textLength="61.08" lengthAdjust="spacingAndGlyphs">20251212</tspan> <tspan x="396.76" textLength="15.27" lengthAdjust="spacingAndGlyphs">19</tspan></text>
<text y="26.00" font-size="12.36"><tspan x="601.95" textLength="39.34" lengthAdjust="spacingAndGlyphs">Hourly</tspan> <tspan x="645.11" textLength="89.44" lengthAdjust="spacingAndGlyphs">Radar-AMeDAS</tspan> <tspan x="738.36" textLength="48.59" lengthAdjust="spacingAndGlyphs">analysis</tspan> <tspan x="790.76" textLength="16.50" lengthAdjust="spacingAndGlyphs">for</tspan> <tspan x="811.08" textLength="61.08" lengthAdjust="spacingAndGlyphs">20251212</tspan> <tspan x="875.98" textLength="15.27" lengthAdjust="spacingAndGlyphs">19</tspan></text>
<text y="406.90" font-size="10.30"><tspan x="561.40" textLength="43.41" lengthAdjust="spacingAndGlyphs">Provided</tspan> <tspan x="607.99" textLength="12.27" lengthAdjust="spacingAndGlyphs">by</tspan> <tspan x="623.43" textLength="40.92" lengthAdjust="spacingAndGlyphs">JWA/JMA</tspan></text>
<g>
<rect x="810.3" y="271.2" width="105.0" height="103.8" fill="#fff"/>
<path d="M810.3 375.0 L810.3 362.0 L811.8 363.0 L812.8 368.0 L815.3 370.5 L820.3 372.0 L827.3 372.8 L834.3 373.8 L840.3 374.4 L846.3 375.0 Z" fill="#000"/>
<line x1="810.3" y1="375.0" x2="915.3" y2="271.2" stroke="#000" stroke-width="1"/>
<rect x="810.3" y="271.2" width="105.0" height="103.8" fill="none" stroke="#000" stroke-width="1"/>
<line x1="810.30" y1="375.0" x2="810.30" y2="378.5" stroke="#000" stroke-width="0.8"/>
<line x1="810.3" y1="375.00" x2="806.8" y2="375.00" stroke="#000" stroke-width="0.8"/>
<text x="808.30" y="387.80" font-size="9.00" textLength="4.00" lengthAdjust="spacingAndGlyphs">0</text>
<text x="799.30" y="378.00" font-size="9.00" textLength="4.00" lengthAdjust="spacingAndGlyphs">0</text>
<line x1="815.55" y1="375.0" x2="815.55" y2="377.0" stroke="#000" stroke-width="0.6"/>
<line x1="810.3" y1="369.81" x2="808.3" y2="369.81" stroke="#000" stroke-width="0.6"/>
<line x1="820.80" y1="375.0" x2="820.80" y2="377.0" stroke="#000" stroke-width="0.6"/>
<line x1="810.3" y1="364.62" x2="808.3" y2="364.62" stroke="#000" stroke-width="0.6"/>
<line x1="826.05" y1="375.0" x2="826.05" y2="377.0" stroke="#000" stroke-width="0.6"/>
<line x1="810.3" y1="359.43" x2="808.3" y2="359.43" stroke="#000" stroke-width="0.6"/>
<line x1="831.30" y1="375.0" x2="831.30" y2="378.5" stroke="#000" stroke-width="0.8"/>
<line x1="810.3" y1="354.24" x2="806.8" y2="354.24" stroke="#000" stroke-width="0.8"/>
<text x="829.30" y="387.80" font-size="9.00" textLength="4.00" lengthAdjust="spacingAndGlyphs">2</text>
<text x="799.30" y="357.24" font-size="9.00" textLength="4.00" lengthAdjust="spacingAndGlyphs">2</text>
<line x1="836.55" y1="375.0" x2="836.55" y2="377.0" stroke="#000" stroke-width="0.6"/>
<line x1="810.3" y1="349.05" x2="808.3" y2="349.05" stroke="#000" stroke-width="0.6"/>
<line x1="841.80" y1="375.0" x2="841.80" y2="377.0" stroke="#000" stroke-width="0.6"/>
<line x1="810.3" y1="343.86" x2="808.3" y2="343.86" stroke="#000" stroke-width="0.6"/>
<line x1="847.05" y1="375.0" x2="847.05" y2="377.0" stroke="#000" stroke-width="0.6"/>
<line x1="810.3" y1="338.67" x2="808.3" y2="338.67" stroke="#000" stroke-width="0.6"/>
<line x1="852.30" y1="375.0" x2="852.30" y2="378.5" stroke="#000" stroke-width="0.8"/>
<line x1="810.3" y1="333.48" x2="806.8" y2="333.48" stroke="#000" stroke-width="0.8"/>
<text x="850.30" y="387.80" font-size="9.00" textLength="4.00" lengthAdjust="spacingAndGlyphs">4</text>
<text x="799.30" y="336.48" font-size="9.00" textLength="4.00" lengthAdjust="spacingAndGlyphs">4</text>
<line x1="857.55" y1="375.0" x2="857.55" y2="377.0" stroke="#000" stroke-width="0.6"/>
<line x1="810.3" y1="328.29" x2="808.3" y2="328.29" stroke="#000" stroke-width="0.6"/>
<line x1="862.80" y1="375.0" x2="862.80" y2="377.0" stroke="#000" stroke-width="0.6"/>
<line x1="810.3" y1="323.10" x2="808.3" y2="323.10" stroke="#000" stroke-width="0.6"/>
<line x1="868.05" y1="375.0" x2="868.05" y2="377.0" stroke="#000" stroke-width="0.6"/>
<line x1="810.3" y1="317.91" x2="808.3" y2="317.91" stroke="#000" stroke-width="0.6"/>
<line x1="873.30" y1="375.0" x2="873.30" y2="378.5" stroke="#000" stroke-width="0.8"/>
<line x1="810.3" y1="312.72" x2="806.8" y2="312.72" stroke="#000" stroke-width="0.8"/>
<text x="871.30" y="387.80" font-size="9.00" textLength="4.00" lengthAdjust="spacingAndGlyphs">6</text>
<text x="799.30" y="315.72" font-size="9.00" textLength="4.00" lengthAdjust="spacingAndGlyphs">6</text>
<line x1="878.55" y1="375.0" x2="878.55" y2="377.0" stroke="#000" stroke-width="0.6"/>
<line x1="810.3" y1="307.53" x2="808.3" y2="307.53" stroke="#000" stroke-width="0.6"/>
<line x1="883.80" y1="375.0" x2="883.80" y2="377.0" stroke="#000" stroke-width="0.6"/>
<line x1="810.3" y1="302.34" x2="808.3" y2="302.34" stroke="#000" stroke-width="0.6"/>
<line x1="889.05" y1="375.0" x2="889.05" y2="377.0" stroke="#000" stroke-width="0.6"/>
<line x1="810.3" y1="297.15" x2="808.3" y2="297.15" stroke="#000" stroke-width="0.6"/>
<line x1="894.30" y1="375.0" x2="894.30" y2="378.5" stroke="#000" stroke-width="0.8"/>
<line x1="810.3" y1="291.96" x2="806.8" y2="291.96" stroke="#000" stroke-width="0.8"/>
<text x="892.30" y="387.80" font-size="9.00" textLength="4.00" lengthAdjust="spacingAndGlyphs">8</text>
<text x="799.30" y="294.96" font-size="9.00" textLength="4.00" lengthAdjust="spacingAndGlyphs">8</text>
<line x1="899.55" y1="375.0" x2="899.55" y2="377.0" stroke="#000" stroke-width="0.6"/>
<line x1="810.3" y1="286.77" x2="808.3" y2="286.77" stroke="#000" stroke-width="0.6"/>
<line x1="904.80" y1="375.0" x2="904.80" y2="377.0" stroke="#000" stroke-width="0.6"/>
<line x1="810.3" y1="281.58" x2="808.3" y2="281.58" stroke="#000" stroke-width="0.6"/>
<line x1="910.05" y1="375.0" x2="910.05" y2="377.0" stroke="#000" stroke-width="0.6"/>
<line x1="810.3" y1="276.39" x2="808.3" y2="276.39" stroke="#000" stroke-width="0.6"/>
<line x1="915.30" y1="375.0" x2="915.30" y2="378.5" stroke="#000" stroke-width="0.8"/>
<line x1="810.3" y1="271.20" x2="806.8" y2="271.20" stroke="#000" stroke-width="0.8"/>
<text x="911.30" y="387.80" font-size="9.00" textLength="8.00" lengthAdjust="spacingAndGlyphs">10</text>
<text x="795.30" y="274.20" font-size="9.00" textLength="8.00" lengthAdjust="spacingAndGlyphs">10</text>
</g>
<text x="837.92" y="398.60" font-size="10.30" textLength="47.16" lengthAdjust="spacingAndGlyphs">ANALYSIS</text>
<text x="748.18" y="324.00" font-size="10.30" textLength="86.24" lengthAdjust="spacingAndGlyphs" transform="rotate(-90 791.30 324.00)">GSMAP_NRT_1HR</text>
<rect x="972.0" y="49.00" width="22.0" height="36.80" fill="#cd9a41"/>
<rect x="972.0" y="85.50" width="22.0" height="36.80" fill="#ff00ff"/>
<rect x="972.0" y="122.00" width="22.0" height="36.80" fill="#e164ff"/>
<rect x="972.0" y="158.50" width="22.0" height="36.80" fill="#8c64ff"/>
<rect x="972.0" y="195.00" width="22.0" height="36.80" fill="#0064ff"/>
<rect x="972.0" y="231.50" width="22.0" height="36.80" fill="#00beff"/>
<rect x="972.0" y="268.00" width="22.0" height="36.80" fill="#64ffff"/>
<rect x="972.0" y="304.50" width="22.0" height="36.80" fill="#96ff96"/>
<rect x="972.0" y="341.00" width="22.0" height="36.80" fill="#dcffc8"/>
<rect x="972.0" y="377.50" width="22.0" height="36.80" fill="#ffe8bd"/>
<path d="M972.0 49.0 L983.0 30.3 L994.0 49.0 Z" fill="#000"/>
<path d="M972.0 414.0 L972.0 49.0 L983.0 30.3 L994.0 49.0 L994.0 414.0 Z" fill="none" stroke="#000" stroke-width="0.9" stroke-linejoin="miter"/>
<line x1="994.0" y1="49.00" x2="998.5" y2="49.00" stroke="#000" stroke-width="0.9"/>
<text x="1001.00" y="53.30" font-size="11.33" textLength="14.00" lengthAdjust="spacingAndGlyphs">50</text>
<line x1="994.0" y1="85.50" x2="998.5" y2="85.50" stroke="#000" stroke-width="0.9"/>
<text x="1001.00" y="89.80" font-size="11.33" textLength="14.00" lengthAdjust="spacingAndGlyphs">25</text>
<line x1="994.0" y1="122.00" x2="998.5" y2="122.00" stroke="#000" stroke-width="0.9"/>
<text x="1001.00" y="126.30" font-size="11.33" textLength="14.00" lengthAdjust="spacingAndGlyphs">10</text>
<line x1="994.0" y1="158.50" x2="998.5" y2="158.50" stroke="#000" stroke-width="0.9"/>
<text x="1001.00" y="162.80" font-size="11.33" textLength="7.00" lengthAdjust="spacingAndGlyphs">5</text>
<line x1="994.0" y1="195.00" x2="998.5" y2="195.00" stroke="#000" stroke-width="0.9"/>
<text x="1001.00" y="199.30" font-size="11.33" textLength="7.00" lengthAdjust="spacingAndGlyphs">4</text>
<line x1="994.0" y1="231.50" x2="998.5" y2="231.50" stroke="#000" stroke-width="0.9"/>
<text x="1001.00" y="235.80" font-size="11.33" textLength="7.00" lengthAdjust="spacingAndGlyphs">3</text>
<line x1="994.0" y1="268.00" x2="998.5" y2="268.00" stroke="#000" stroke-width="0.9"/>
<text x="1001.00" y="272.30" font-size="11.33" textLength="7.00" lengthAdjust="spacingAndGlyphs">2</text>
<line x1="994.0" y1="304.50" x2="998.5" y2="304.50" stroke="#000" stroke-width="0.9"/>
<text x="1001.00" y="308.80" font-size="11.33" textLength="7.00" lengthAdjust="spacingAndGlyphs">1</text>
<line x1="994.0" y1="341.00" x2="998.5" y2="341.00" stroke="#000" stroke-width="0.9"/>
<text x="1001.00" y="345.30" font-size="11.33" textLength="17.49" lengthAdjust="spacingAndGlyphs">0.5</text>
<line x1="994.0" y1="377.50" x2="998.5" y2="377.50" stroke="#000" stroke-width="0.9"/>
<text x="1001.00" y="381.80" font-size="11.33" textLength="24.49" lengthAdjust="spacingAndGlyphs">0.01</text>
<line x1="994.0" y1="414.00" x2="998.5" y2="414.00" stroke="#000" stroke-width="0.9"/>
<text x="1001.00" y="418.30" font-size="11.33" textLength="7.00" lengthAdjust="spacingAndGlyphs">0</text>
<rect x="74.50" y="452.20" width="123.80" height="18.20" fill="#ffe8bd" stroke="#000" stroke-width="0.6"/>
<rect x="198.30" y="452.20" width="8.00" height="18.20" fill="#dcffc8" stroke="#000" stroke-width="0.6"/>
<rect x="206.30" y="452.20" width="0.70" height="18.20" fill="#96ff96" stroke="#000" stroke-width="0.25"/>
<rect x="207.00" y="452.20" width="0.70" height="18.20" fill="#64ffff" stroke="#000" stroke-width="0.25"/>
<rect x="74.50" y="479.50" width="97.80" height="18.10" fill="#ffe8bd" stroke="#000" stroke-width="0.6"/>
<rect x="172.30" y="479.50" width="30.80" height="18.10" fill="#dcffc8" stroke="#000" stroke-width="0.6"/>
<rect x="203.10" y="479.50" width="1.90" height="18.10" fill="#96ff96" stroke="#000" stroke-width="0.25"/>
<rect x="205.00" y="479.50" width="1.60" height="18.10" fill="#64ffff" stroke="#000" stroke-width="0.25"/>
<rect x="206.60" y="479.50" width="1.10" height="18.10" fill="#00beff" stroke="#000" stroke-width="0.25"/>
<rect x="206.6" y="452.2" width="1.3" height="18.2" fill="#000"/>
<line x1="74.50" y1="470.40" x2="74.50" y2="479.50" stroke="#000" stroke-width="0.6"/>
<line x1="198.30" y1="470.40" x2="172.30" y2="479.50" stroke="#000" stroke-width="0.6"/>
<line x1="206.30" y1="470.40" x2="203.10" y2="479.50" stroke="#000" stroke-width="0.6"/>
<line x1="207.00" y1="470.40" x2="205.00" y2="479.50" stroke="#000" stroke-width="0.6"/>
<line x1="207.40" y1="470.40" x2="206.60" y2="479.50" stroke="#000" stroke-width="0.6"/>
<line x1="207.70" y1="470.40" x2="207.70" y2="479.50" stroke="#000" stroke-width="0.6"/>
<rect x="74.50" y="533.10" width="1.90" height="18.10" fill="#ffe8bd" stroke="#000" stroke-width="0.25"/>
<rect x="76.40" y="533.10" width="14.10" height="18.10" fill="#dcffc8" stroke="#000" stroke-width="0.6"/>
<rect x="90.50" y="533.10" width="6.10" height="18.10" fill="#96ff96" stroke="#000" stroke-width="0.6"/>
<rect x="96.60" y="533.10" width="2.90" height="18.10" fill="#64ffff" stroke="#000" stroke-width="0.6"/>
<rect x="74.50" y="560.00" width="2.10" height="18.50" fill="#ffe8bd" stroke="#000" stroke-width="0.25"/>
<rect x="76.60" y="560.00" width="71.80" height="18.50" fill="#dcffc8" stroke="#000" stroke-width="0.6"/>
<rect x="148.40" y="560.00" width="26.20" height="18.50" fill="#96ff96" stroke="#000" stroke-width="0.6"/>
<rect x="174.60" y="560.00" width="25.00" height="18.50" fill="#64ffff" stroke="#000" stroke-width="0.6"/>
<rect x="199.60" y="560.00" width="4.90" height="18.50" fill="#00beff" stroke="#000" stroke-width="0.6"/>
<rect x="204.50" y="560.00" width="3.20" height="18.50" fill="#0064ff" stroke="#000" stroke-width="0.6"/>
<line x1="74.50" y1="551.20" x2="74.50" y2="560.00" stroke="#000" stroke-width="0.6"/>
<line x1="76.40" y1="551.20" x2="76.60" y2="560.00" stroke="#000" stroke-width="0.6"/>
<line x1="90.50" y1="551.20" x2="148.40" y2="560.00" stroke="#000" stroke-width="0.6"/>
<line x1="96.60" y1="551.20" x2="174.60" y2="560.00" stroke="#000" stroke-width="0.6"/>
<line x1="99.50" y1="551.20" x2="199.60" y2="560.00" stroke="#000" stroke-width="0.6"/>
<line x1="99.50" y1="551.20" x2="204.50" y2="560.00" stroke="#000" stroke-width="0.6"/>
<line x1="99.50" y1="551.20" x2="207.70" y2="560.00" stroke="#000" stroke-width="0.6"/>
<path d="M99.5 551.0 L207.7 559.2 L207.7 560.3 L199.6 560.3 Z" fill="#000"/>
<text y="447.30" font-size="10.30"><tspan x="67.96" textLength="32.78" lengthAdjust="spacingAndGlyphs">Hourly</tspan> <tspan x="103.92" textLength="38.41" lengthAdjust="spacingAndGlyphs">fraction</tspan> <tspan x="145.51" textLength="12.27" lengthAdjust="spacingAndGlyphs">by</tspan> <tspan x="160.96" textLength="51.49" lengthAdjust="spacingAndGlyphs">occurence</tspan></text>
<text x="47.20" y="466.10" font-size="10.30" textLength="15.45" lengthAdjust="spacingAndGlyphs">Est</text>
<text x="47.20" y="493.20" font-size="10.30" textLength="19.43" lengthAdjust="spacingAndGlyphs">Obs</text>
<text x="58.00" y="509.90" font-size="10.30" textLength="15.86" lengthAdjust="spacingAndGlyphs">0%</text>
<text y="509.90" font-size="10.30"><tspan x="101.91" textLength="25.79" lengthAdjust="spacingAndGlyphs">Areal</tspan> <tspan x="130.88" textLength="38.41" lengthAdjust="spacingAndGlyphs">fraction</tspan></text>
<text x="194.60" y="509.90" font-size="10.30" textLength="28.59" lengthAdjust="spacingAndGlyphs">100%</text>
<text y="527.80" font-size="10.30"><tspan x="71.91" textLength="32.78" lengthAdjust="spacingAndGlyphs">Hourly</tspan> <tspan x="107.88" textLength="38.41" lengthAdjust="spacingAndGlyphs">fraction</tspan> <tspan x="149.47" textLength="9.64" lengthAdjust="spacingAndGlyphs">of</tspan> <tspan x="162.29" textLength="22.87" lengthAdjust="spacingAndGlyphs">total</tspan> <tspan x="188.33" textLength="19.36" lengthAdjust="spacingAndGlyphs">rain</tspan></text>
<text x="47.20" y="546.80" font-size="10.30" textLength="15.45" lengthAdjust="spacingAndGlyphs">Est</text>
<text x="47.20" y="573.80" font-size="10.30" textLength="19.43" lengthAdjust="spacingAndGlyphs">Obs</text>
<text y="589.80" font-size="10.30"><tspan x="58.11" textLength="37.18" lengthAdjust="spacingAndGlyphs">Rainfall</tspan> <tspan x="98.47" textLength="67.60" lengthAdjust="spacingAndGlyphs">accumulation</tspan> <tspan x="169.26" textLength="12.27" lengthAdjust="spacingAndGlyphs">by</tspan> <tspan x="184.70" textLength="38.59" lengthAdjust="spacingAndGlyphs">amount</tspan></text>
<rect x="277.6" y="478.6" width="123.8" height="94.7" fill="none" stroke="#000" stroke-width="1.1"/>
<line x1="339.6" y1="478.6" x2="339.6" y2="573.3" stroke="#000" stroke-width="1.1"/>
<line x1="277.6" y1="526.4" x2="401.4" y2="526.4" stroke="#000" stroke-width="1.1"/>
<text x="295.68" y="455.20" font-size="10.30" textLength="86.24" lengthAdjust="spacingAndGlyphs">GSMAP_NRT_1HR</text>
<text x="293.18" y="469.80" font-size="10.30" textLength="30.65" lengthAdjust="spacingAndGlyphs">&lt;0.01</text>
<text x="354.68" y="469.80" font-size="10.30" textLength="30.65" lengthAdjust="spacingAndGlyphs">≥0.01</text>
<text x="244.55" y="506.10" font-size="10.30" textLength="30.65" lengthAdjust="spacingAndGlyphs">&lt;0.01</text>
<text x="244.55" y="553.20" font-size="10.30" textLength="30.65" lengthAdjust="spacingAndGlyphs">≥0.01</text>
<text x="223.02" y="520.10" font-size="10.30" textLength="47.16" lengthAdjust="spacingAndGlyphs" transform="rotate(-90 246.60 520.10)">ANALYSIS</text>
<text x="295.27" y="506.10" font-size="10.30" textLength="25.45" lengthAdjust="spacingAndGlyphs">3017</text>
<text x="367.42" y="506.10" font-size="10.30" textLength="6.36" lengthAdjust="spacingAndGlyphs">4</text>
<text x="301.64" y="553.20" font-size="10.30" textLength="12.72" lengthAdjust="spacingAndGlyphs">29</text>
<text x="367.42" y="553.20" font-size="10.30" textLength="6.36" lengthAdjust="spacingAndGlyphs">0</text>
<text y="454.40" font-size="10.30"><tspan x="460.40" textLength="49.38" lengthAdjust="spacingAndGlyphs">Validation</tspan> <tspan x="512.96" textLength="44.58" lengthAdjust="spacingAndGlyphs">statistics</tspan> <tspan x="560.71" textLength="13.75" lengthAdjust="spacingAndGlyphs">for</tspan> <tspan x="577.64" textLength="50.90" lengthAdjust="spacingAndGlyphs">20251212</tspan> <tspan x="631.72" textLength="12.72" lengthAdjust="spacingAndGlyphs">19</tspan> <tspan x="650.80" textLength="40.17" lengthAdjust="spacingAndGlyphs">n=3050</tspan> <tspan x="694.15" textLength="27.27" lengthAdjust="spacingAndGlyphs">Valid.</tspan> <tspan x="724.60" textLength="55.23" lengthAdjust="spacingAndGlyphs">grid=0.25˚</tspan> <tspan x="783.01" textLength="69.51" lengthAdjust="spacingAndGlyphs">Units=mm/hr.</tspan></text>
<line x1="457.4" y1="457.3" x2="997.0" y2="457.3" stroke="#000" stroke-width="0.9" stroke-dasharray="3.7 1.6"/>
<text x="608.92" y="475.00" font-size="10.30" textLength="47.16" lengthAdjust="spacingAndGlyphs">ANALYSIS</text>
<text x="670.68" y="475.00" font-size="10.30" textLength="86.24" lengthAdjust="spacingAndGlyphs">GSMAP_NRT_1HR</text>
<line x1="457.4" y1="480.4" x2="758.2" y2="480.4" stroke="#000" stroke-width="0.9" stroke-dasharray="3.7 1.6"/>
<text y="498.70" font-size="10.30"><tspan x="460.40" textLength="23.56" lengthAdjust="spacingAndGlyphs">Num</tspan> <tspan x="487.14" textLength="9.64" lengthAdjust="spacingAndGlyphs">of</tspan> <tspan x="499.96" textLength="50.30" lengthAdjust="spacingAndGlyphs">gridpoints</tspan> <tspan x="553.43" textLength="34.82" lengthAdjust="spacingAndGlyphs">raining</tspan></text>
<text x="635.88" y="498.70" font-size="10.30" textLength="12.72" lengthAdjust="spacingAndGlyphs">29</text>
<text x="723.84" y="498.70" font-size="10.30" textLength="6.36" lengthAdjust="spacingAndGlyphs">4</text>
<text y="518.60" font-size="10.30"><tspan x="460.40" textLength="41.06" lengthAdjust="spacingAndGlyphs">Average</tspan> <tspan x="504.64" textLength="19.36" lengthAdjust="spacingAndGlyphs">rain</tspan></text>
<text x="632.70" y="518.60" font-size="10.30" textLength="15.90" lengthAdjust="spacingAndGlyphs">0.1</text>
<text x="714.30" y="518.60" font-size="10.30" textLength="15.90" lengthAdjust="spacingAndGlyphs">0.0</text>
<text y="538.70" font-size="10.30"><tspan x="460.40" textLength="56.63" lengthAdjust="spacingAndGlyphs">Conditional</tspan> <tspan x="520.21" textLength="19.36" lengthAdjust="spacingAndGlyphs">rain</tspan></text>
<text x="632.70" y="538.70" font-size="10.30" textLength="15.90" lengthAdjust="spacingAndGlyphs">6.1</text>
<text x="714.30" y="538.70" font-size="10.30" textLength="15.90" lengthAdjust="spacingAndGlyphs">7.9</text>
<text x="632.70" y="558.40" font-size="10.30" textLength="15.90" lengthAdjust="spacingAndGlyphs">0.1</text>
<text x="714.30" y="558.40" font-size="10.30" textLength="15.90" lengthAdjust="spacingAndGlyphs">0.0</text>
<text y="577.80" font-size="10.30"><tspan x="460.40" textLength="49.27" lengthAdjust="spacingAndGlyphs">Maximum</tspan> <tspan x="512.85" textLength="19.36" lengthAdjust="spacingAndGlyphs">rain</tspan></text>
<text x="632.70" y="577.80" font-size="10.30" textLength="15.90" lengthAdjust="spacingAndGlyphs">3.5</text>
<text x="714.30" y="577.80" font-size="10.30" textLength="15.90" lengthAdjust="spacingAndGlyphs">1.2</text>
<text x="461.3" y="558.6" font-size="10.3" textLength="133.30" lengthAdjust="spacingAndGlyphs">Rain volume (mm km<tspan font-size="7.2" dy="-3.6">2</tspan><tspan dy="3.6">10</tspan><tspan font-size="7.2" dy="-3.6">6</tspan><tspan dy="3.6">)</tspan></text>
<text y="471.70" font-size="10.30"><tspan x="784.40" textLength="27.25" lengthAdjust="spacingAndGlyphs">Mean</tspan> <tspan x="814.83" textLength="17.69" lengthAdjust="spacingAndGlyphs">abs</tspan> <tspan x="835.69" textLength="24.21" lengthAdjust="spacingAndGlyphs">error</tspan> <tspan x="863.08" textLength="8.38" lengthAdjust="spacingAndGlyphs">=</tspan> <tspan x="884.17" textLength="15.90" lengthAdjust="spacingAndGlyphs">0.1</tspan></text>
<text y="488.70" font-size="10.30"><tspan x="784.40" textLength="21.92" lengthAdjust="spacingAndGlyphs">RMS</tspan> <tspan x="809.50" textLength="24.21" lengthAdjust="spacingAndGlyphs">error</tspan> <tspan x="836.89" textLength="8.38" lengthAdjust="spacingAndGlyphs">=</tspan> <tspan x="857.99" textLength="15.90" lengthAdjust="spacingAndGlyphs">0.2</tspan></text>
<text y="505.80" font-size="10.30"><tspan x="784.40" textLength="55.14" lengthAdjust="spacingAndGlyphs">Correlation</tspan> <tspan x="842.72" textLength="24.66" lengthAdjust="spacingAndGlyphs">coeff</tspan> <tspan x="870.56" textLength="8.38" lengthAdjust="spacingAndGlyphs">=</tspan> <tspan x="885.30" textLength="28.63" lengthAdjust="spacingAndGlyphs">0.035</tspan></text>
<text y="522.70" font-size="10.30"><tspan x="784.40" textLength="51.66" lengthAdjust="spacingAndGlyphs">Frequency</tspan> <tspan x="839.24" textLength="20.46" lengthAdjust="spacingAndGlyphs">bias</tspan> <tspan x="862.88" textLength="8.38" lengthAdjust="spacingAndGlyphs">=</tspan> <tspan x="877.62" textLength="28.63" lengthAdjust="spacingAndGlyphs">0.138</tspan></text>
<text y="539.70" font-size="10.30"><tspan x="784.40" textLength="52.86" lengthAdjust="spacingAndGlyphs">Probability</tspan> <tspan x="840.44" textLength="9.64" lengthAdjust="spacingAndGlyphs">of</tspan> <tspan x="853.26" textLength="47.23" lengthAdjust="spacingAndGlyphs">detection</tspan> <tspan x="903.66" textLength="8.38" lengthAdjust="spacingAndGlyphs">=</tspan> <tspan x="918.40" textLength="28.63" lengthAdjust="spacingAndGlyphs">0.000</tspan></text>
<text y="556.70" font-size="10.30"><tspan x="784.40" textLength="25.10" lengthAdjust="spacingAndGlyphs">False</tspan> <tspan x="812.68" textLength="28.71" lengthAdjust="spacingAndGlyphs">alarm</tspan> <tspan x="844.57" textLength="23.06" lengthAdjust="spacingAndGlyphs">ratio</tspan> <tspan x="870.81" textLength="8.38" lengthAdjust="spacingAndGlyphs">=</tspan> <tspan x="885.55" textLength="28.63" lengthAdjust="spacingAndGlyphs">1.000</tspan></text>
<text y="573.60" font-size="10.30"><tspan x="784.40" textLength="42.90" lengthAdjust="spacingAndGlyphs">Hanssen</tspan> <tspan x="830.48" textLength="7.80" lengthAdjust="spacingAndGlyphs">&amp;</tspan> <tspan x="841.45" textLength="37.00" lengthAdjust="spacingAndGlyphs">Kuipers</tspan> <tspan x="881.63" textLength="26.87" lengthAdjust="spacingAndGlyphs">score</tspan> <tspan x="911.68" textLength="8.38" lengthAdjust="spacingAndGlyphs">=</tspan> <tspan x="923.24" textLength="32.24" lengthAdjust="spacingAndGlyphs">-0.001</tspan></text>
<text y="590.60" font-size="10.30"><tspan x="784.40" textLength="47.11" lengthAdjust="spacingAndGlyphs">Equitable</tspan> <tspan x="834.69" textLength="30.35" lengthAdjust="spacingAndGlyphs">threat</tspan> <tspan x="868.22" textLength="26.87" lengthAdjust="spacingAndGlyphs">score</tspan> <tspan x="898.27" textLength="8.38" lengthAdjust="spacingAndGlyphs">=</tspan> <tspan x="909.83" textLength="32.24" lengthAdjust="spacingAndGlyphs">-0.001</tspan></text>
</svg>
</body></html>
